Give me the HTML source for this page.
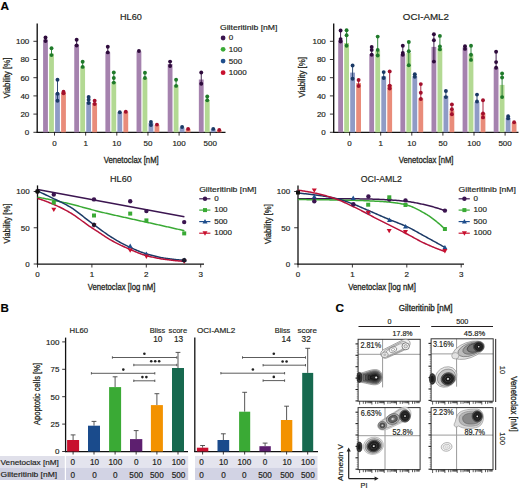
<!DOCTYPE html>
<html><head><meta charset="utf-8"><style>
html,body{margin:0;padding:0;background:#fff;overflow:hidden;}
svg{display:block;}
text{font-family:"Liberation Sans", sans-serif;stroke:#231f20;stroke-width:0.18px;} text.c{stroke-width:0.3px;}
</style></head><body>
<svg width="520" height="490" viewBox="0 0 520 490">
<rect width="520" height="490" fill="#fff"/>
<g fill="#231f20">
<text x="0.50" y="9.70" font-size="11.8" font-weight="bold" fill="#000">A</text>
<text x="0.60" y="311.80" font-size="11.6" font-weight="bold" fill="#000">B</text>
<text x="335.40" y="312.30" font-size="11.8" font-weight="bold" fill="#000">C</text>
<line x1="37.20" y1="23.50" x2="37.20" y2="132.90" stroke="#111" stroke-width="1.35"/>
<line x1="36.60" y1="132.30" x2="225.50" y2="132.30" stroke="#111" stroke-width="1.3"/>
<line x1="33.40" y1="132.30" x2="37.20" y2="132.30" stroke="#231f20" stroke-width="0.9"/>
<text x="29.30" y="135.20" font-size="8.0" text-anchor="end">0</text>
<line x1="33.40" y1="114.10" x2="37.20" y2="114.10" stroke="#231f20" stroke-width="0.9"/>
<text x="29.30" y="117.00" font-size="8.0" text-anchor="end">20</text>
<line x1="33.40" y1="95.90" x2="37.20" y2="95.90" stroke="#231f20" stroke-width="0.9"/>
<text x="29.30" y="98.80" font-size="8.0" text-anchor="end">40</text>
<line x1="33.40" y1="77.70" x2="37.20" y2="77.70" stroke="#231f20" stroke-width="0.9"/>
<text x="29.30" y="80.60" font-size="8.0" text-anchor="end">60</text>
<line x1="33.40" y1="59.50" x2="37.20" y2="59.50" stroke="#231f20" stroke-width="0.9"/>
<text x="29.30" y="62.40" font-size="8.0" text-anchor="end">80</text>
<line x1="33.40" y1="41.30" x2="37.20" y2="41.30" stroke="#231f20" stroke-width="0.9"/>
<text x="29.30" y="44.20" font-size="8.0" text-anchor="end">100</text>
<line x1="54.50" y1="132.30" x2="54.50" y2="135.60" stroke="#231f20" stroke-width="0.9"/>
<text x="54.50" y="146.20" font-size="8.0" text-anchor="middle">0</text>
<line x1="85.65" y1="132.30" x2="85.65" y2="135.60" stroke="#231f20" stroke-width="0.9"/>
<text x="85.65" y="146.20" font-size="8.0" text-anchor="middle">1</text>
<line x1="116.80" y1="132.30" x2="116.80" y2="135.60" stroke="#231f20" stroke-width="0.9"/>
<text x="116.80" y="146.20" font-size="8.0" text-anchor="middle">10</text>
<line x1="147.95" y1="132.30" x2="147.95" y2="135.60" stroke="#231f20" stroke-width="0.9"/>
<text x="147.95" y="146.20" font-size="8.0" text-anchor="middle">50</text>
<line x1="179.10" y1="132.30" x2="179.10" y2="135.60" stroke="#231f20" stroke-width="0.9"/>
<text x="179.10" y="146.20" font-size="8.0" text-anchor="middle">100</text>
<line x1="210.25" y1="132.30" x2="210.25" y2="135.60" stroke="#231f20" stroke-width="0.9"/>
<text x="210.25" y="146.20" font-size="8.0" text-anchor="middle">500</text>
<rect x="43.10" y="39.50" width="4.80" height="92.80" fill="#a582ae"/>
<rect x="49.10" y="53.60" width="4.80" height="78.70" fill="#b3d993"/>
<rect x="55.10" y="93.30" width="4.80" height="39.00" fill="#8f9bc6"/>
<rect x="61.10" y="92.20" width="4.80" height="40.10" fill="#e98c7a"/>
<line x1="45.50" y1="37.50" x2="45.50" y2="41.00" stroke="#2e0b3c" stroke-width="0.9"/>
<circle cx="45.50" cy="37.50" r="1.95" fill="#2e0b3c"/>
<circle cx="45.50" cy="41.00" r="1.95" fill="#2e0b3c"/>
<line x1="51.50" y1="48.20" x2="51.50" y2="55.10" stroke="#1f7a2a" stroke-width="0.9"/>
<circle cx="51.50" cy="48.20" r="1.95" fill="#1f7a2a"/>
<circle cx="51.50" cy="55.10" r="1.95" fill="#1f7a2a"/>
<line x1="57.50" y1="79.80" x2="57.50" y2="100.80" stroke="#1a3a66" stroke-width="0.9"/>
<circle cx="57.50" cy="79.80" r="1.95" fill="#1a3a66"/>
<circle cx="57.50" cy="93.70" r="1.95" fill="#1a3a66"/>
<circle cx="57.50" cy="100.80" r="1.95" fill="#1a3a66"/>
<line x1="63.50" y1="91.80" x2="63.50" y2="93.30" stroke="#a3102c" stroke-width="0.9"/>
<circle cx="63.50" cy="91.80" r="1.95" fill="#a3102c"/>
<circle cx="63.50" cy="93.30" r="1.95" fill="#a3102c"/>
<rect x="74.25" y="44.60" width="4.80" height="87.70" fill="#a582ae"/>
<rect x="80.25" y="66.50" width="4.80" height="65.80" fill="#b3d993"/>
<rect x="86.25" y="101.90" width="4.80" height="30.40" fill="#8f9bc6"/>
<rect x="92.25" y="103.00" width="4.80" height="29.30" fill="#e98c7a"/>
<line x1="76.65" y1="39.70" x2="76.65" y2="45.50" stroke="#2e0b3c" stroke-width="0.9"/>
<circle cx="76.65" cy="39.70" r="1.95" fill="#2e0b3c"/>
<circle cx="76.65" cy="45.50" r="1.95" fill="#2e0b3c"/>
<line x1="82.65" y1="61.80" x2="82.65" y2="66.90" stroke="#1f7a2a" stroke-width="0.9"/>
<circle cx="82.65" cy="61.80" r="1.95" fill="#1f7a2a"/>
<circle cx="82.65" cy="66.90" r="1.95" fill="#1f7a2a"/>
<line x1="88.65" y1="97.00" x2="88.65" y2="103.00" stroke="#1a3a66" stroke-width="0.9"/>
<circle cx="88.65" cy="97.00" r="1.95" fill="#1a3a66"/>
<circle cx="88.65" cy="99.70" r="1.95" fill="#1a3a66"/>
<circle cx="88.65" cy="103.00" r="1.95" fill="#1a3a66"/>
<line x1="94.65" y1="100.80" x2="94.65" y2="104.00" stroke="#a3102c" stroke-width="0.9"/>
<circle cx="94.65" cy="100.80" r="1.95" fill="#a3102c"/>
<circle cx="94.65" cy="104.00" r="1.95" fill="#a3102c"/>
<rect x="105.40" y="52.40" width="4.80" height="79.90" fill="#a582ae"/>
<rect x="111.40" y="82.00" width="4.80" height="50.30" fill="#b3d993"/>
<rect x="117.40" y="112.70" width="4.80" height="19.60" fill="#8f9bc6"/>
<rect x="123.40" y="111.70" width="4.80" height="20.60" fill="#e98c7a"/>
<line x1="107.80" y1="46.70" x2="107.80" y2="52.40" stroke="#2e0b3c" stroke-width="0.9"/>
<circle cx="107.80" cy="46.70" r="1.95" fill="#2e0b3c"/>
<circle cx="107.80" cy="52.40" r="1.95" fill="#2e0b3c"/>
<line x1="113.80" y1="72.40" x2="113.80" y2="82.60" stroke="#1f7a2a" stroke-width="0.9"/>
<circle cx="113.80" cy="72.40" r="1.95" fill="#1f7a2a"/>
<circle cx="113.80" cy="78.00" r="1.95" fill="#1f7a2a"/>
<circle cx="113.80" cy="82.60" r="1.95" fill="#1f7a2a"/>
<circle cx="119.80" cy="112.30" r="1.95" fill="#1a3a66"/>
<circle cx="125.80" cy="111.70" r="1.95" fill="#a3102c"/>
<rect x="136.55" y="51.40" width="4.80" height="80.90" fill="#a582ae"/>
<rect x="142.55" y="78.00" width="4.80" height="54.30" fill="#b3d993"/>
<rect x="148.55" y="123.00" width="4.80" height="9.30" fill="#8f9bc6"/>
<rect x="154.55" y="125.00" width="4.80" height="7.30" fill="#e98c7a"/>
<circle cx="138.95" cy="51.00" r="1.95" fill="#2e0b3c"/>
<line x1="144.95" y1="72.80" x2="144.95" y2="78.00" stroke="#1f7a2a" stroke-width="0.9"/>
<circle cx="144.95" cy="72.80" r="1.95" fill="#1f7a2a"/>
<circle cx="144.95" cy="78.00" r="1.95" fill="#1f7a2a"/>
<line x1="150.95" y1="121.90" x2="150.95" y2="125.00" stroke="#1a3a66" stroke-width="0.9"/>
<circle cx="150.95" cy="121.90" r="1.95" fill="#1a3a66"/>
<circle cx="150.95" cy="125.00" r="1.95" fill="#1a3a66"/>
<circle cx="156.95" cy="124.60" r="1.95" fill="#a3102c"/>
<rect x="167.70" y="64.00" width="4.80" height="68.30" fill="#a582ae"/>
<rect x="173.70" y="85.00" width="4.80" height="47.30" fill="#b3d993"/>
<rect x="179.70" y="127.50" width="4.80" height="4.80" fill="#8f9bc6"/>
<rect x="185.70" y="128.90" width="4.80" height="3.40" fill="#e98c7a"/>
<line x1="170.10" y1="61.60" x2="170.10" y2="66.00" stroke="#2e0b3c" stroke-width="0.9"/>
<circle cx="170.10" cy="61.60" r="1.95" fill="#2e0b3c"/>
<circle cx="170.10" cy="66.00" r="1.95" fill="#2e0b3c"/>
<line x1="176.10" y1="79.80" x2="176.10" y2="85.90" stroke="#1f7a2a" stroke-width="0.9"/>
<circle cx="176.10" cy="79.80" r="1.95" fill="#1f7a2a"/>
<circle cx="176.10" cy="85.90" r="1.95" fill="#1f7a2a"/>
<circle cx="182.10" cy="127.00" r="1.95" fill="#1a3a66"/>
<circle cx="188.10" cy="128.90" r="1.95" fill="#a3102c"/>
<rect x="198.85" y="79.50" width="4.80" height="52.80" fill="#a582ae"/>
<rect x="204.85" y="100.00" width="4.80" height="32.30" fill="#b3d993"/>
<rect x="210.85" y="128.90" width="4.80" height="3.40" fill="#8f9bc6"/>
<rect x="216.85" y="130.00" width="4.80" height="2.30" fill="#e98c7a"/>
<line x1="201.25" y1="72.50" x2="201.25" y2="83.80" stroke="#2e0b3c" stroke-width="0.9"/>
<circle cx="201.25" cy="72.50" r="1.95" fill="#2e0b3c"/>
<circle cx="201.25" cy="83.80" r="1.95" fill="#2e0b3c"/>
<line x1="207.25" y1="96.40" x2="207.25" y2="100.30" stroke="#1f7a2a" stroke-width="0.9"/>
<circle cx="207.25" cy="96.40" r="1.95" fill="#1f7a2a"/>
<circle cx="207.25" cy="100.30" r="1.95" fill="#1f7a2a"/>
<circle cx="213.25" cy="128.90" r="1.95" fill="#1a3a66"/>
<circle cx="219.25" cy="130.00" r="1.95" fill="#a3102c"/>
<text x="130.90" y="20.20" font-size="9.4" text-anchor="middle" textLength="21.8" lengthAdjust="spacingAndGlyphs">HL60</text>
<text x="103.75" y="162.50" font-size="9.4" textLength="55.0" lengthAdjust="spacingAndGlyphs" class="c">Venetoclax [nM]</text>
<text x="10.20" y="77.90" font-size="9.4" text-anchor="middle" textLength="40.5" lengthAdjust="spacingAndGlyphs" transform="rotate(-90 10.20 77.90)" class="c">Viability [%]</text>
<line x1="333.70" y1="23.50" x2="333.70" y2="132.90" stroke="#111" stroke-width="1.35"/>
<line x1="333.10" y1="132.30" x2="518.50" y2="132.30" stroke="#111" stroke-width="1.3"/>
<line x1="329.90" y1="132.30" x2="333.70" y2="132.30" stroke="#231f20" stroke-width="0.9"/>
<text x="325.80" y="135.20" font-size="8.0" text-anchor="end">0</text>
<line x1="329.90" y1="114.10" x2="333.70" y2="114.10" stroke="#231f20" stroke-width="0.9"/>
<text x="325.80" y="117.00" font-size="8.0" text-anchor="end">20</text>
<line x1="329.90" y1="95.90" x2="333.70" y2="95.90" stroke="#231f20" stroke-width="0.9"/>
<text x="325.80" y="98.80" font-size="8.0" text-anchor="end">40</text>
<line x1="329.90" y1="77.70" x2="333.70" y2="77.70" stroke="#231f20" stroke-width="0.9"/>
<text x="325.80" y="80.60" font-size="8.0" text-anchor="end">60</text>
<line x1="329.90" y1="59.50" x2="333.70" y2="59.50" stroke="#231f20" stroke-width="0.9"/>
<text x="325.80" y="62.40" font-size="8.0" text-anchor="end">80</text>
<line x1="329.90" y1="41.30" x2="333.70" y2="41.30" stroke="#231f20" stroke-width="0.9"/>
<text x="325.80" y="44.20" font-size="8.0" text-anchor="end">100</text>
<line x1="349.60" y1="132.30" x2="349.60" y2="135.60" stroke="#231f20" stroke-width="0.9"/>
<text x="349.60" y="146.20" font-size="8.0" text-anchor="middle">0</text>
<line x1="380.70" y1="132.30" x2="380.70" y2="135.60" stroke="#231f20" stroke-width="0.9"/>
<text x="380.70" y="146.20" font-size="8.0" text-anchor="middle">1</text>
<line x1="411.80" y1="132.30" x2="411.80" y2="135.60" stroke="#231f20" stroke-width="0.9"/>
<text x="411.80" y="146.20" font-size="8.0" text-anchor="middle">10</text>
<line x1="442.90" y1="132.30" x2="442.90" y2="135.60" stroke="#231f20" stroke-width="0.9"/>
<text x="442.90" y="146.20" font-size="8.0" text-anchor="middle">50</text>
<line x1="474.00" y1="132.30" x2="474.00" y2="135.60" stroke="#231f20" stroke-width="0.9"/>
<text x="474.00" y="146.20" font-size="8.0" text-anchor="middle">100</text>
<line x1="505.10" y1="132.30" x2="505.10" y2="135.60" stroke="#231f20" stroke-width="0.9"/>
<text x="505.10" y="146.20" font-size="8.0" text-anchor="middle">500</text>
<rect x="338.20" y="40.00" width="4.80" height="92.30" fill="#a582ae"/>
<rect x="344.20" y="43.00" width="4.80" height="89.30" fill="#b3d993"/>
<rect x="350.20" y="72.60" width="4.80" height="59.70" fill="#8f9bc6"/>
<rect x="356.20" y="83.10" width="4.80" height="49.20" fill="#e98c7a"/>
<line x1="340.60" y1="30.50" x2="340.60" y2="41.50" stroke="#2e0b3c" stroke-width="0.9"/>
<circle cx="340.60" cy="30.50" r="1.95" fill="#2e0b3c"/>
<circle cx="340.60" cy="39.10" r="1.95" fill="#2e0b3c"/>
<circle cx="340.60" cy="41.50" r="1.95" fill="#2e0b3c"/>
<line x1="346.60" y1="30.30" x2="346.60" y2="45.70" stroke="#1f7a2a" stroke-width="0.9"/>
<circle cx="346.60" cy="30.30" r="1.95" fill="#1f7a2a"/>
<circle cx="346.60" cy="35.20" r="1.95" fill="#1f7a2a"/>
<circle cx="346.60" cy="45.70" r="1.95" fill="#1f7a2a"/>
<line x1="352.60" y1="65.50" x2="352.60" y2="78.70" stroke="#1a3a66" stroke-width="0.9"/>
<circle cx="352.60" cy="65.50" r="1.95" fill="#1a3a66"/>
<circle cx="352.60" cy="78.70" r="1.95" fill="#1a3a66"/>
<line x1="358.60" y1="80.00" x2="358.60" y2="86.00" stroke="#a3102c" stroke-width="0.9"/>
<circle cx="358.60" cy="80.00" r="1.95" fill="#a3102c"/>
<circle cx="358.60" cy="86.00" r="1.95" fill="#a3102c"/>
<rect x="369.30" y="54.30" width="4.80" height="78.00" fill="#a582ae"/>
<rect x="375.30" y="50.60" width="4.80" height="81.70" fill="#b3d993"/>
<rect x="381.30" y="76.30" width="4.80" height="56.00" fill="#8f9bc6"/>
<rect x="387.30" y="84.90" width="4.80" height="47.40" fill="#e98c7a"/>
<line x1="371.70" y1="46.90" x2="371.70" y2="54.75" stroke="#2e0b3c" stroke-width="0.9"/>
<circle cx="371.70" cy="46.90" r="1.95" fill="#2e0b3c"/>
<circle cx="371.70" cy="49.90" r="1.95" fill="#2e0b3c"/>
<circle cx="371.70" cy="54.75" r="1.95" fill="#2e0b3c"/>
<line x1="377.70" y1="36.60" x2="377.70" y2="55.50" stroke="#1f7a2a" stroke-width="0.9"/>
<circle cx="377.70" cy="36.60" r="1.95" fill="#1f7a2a"/>
<circle cx="377.70" cy="49.90" r="1.95" fill="#1f7a2a"/>
<circle cx="377.70" cy="55.50" r="1.95" fill="#1f7a2a"/>
<line x1="383.70" y1="72.10" x2="383.70" y2="78.00" stroke="#1a3a66" stroke-width="0.9"/>
<circle cx="383.70" cy="72.10" r="1.95" fill="#1a3a66"/>
<circle cx="383.70" cy="78.00" r="1.95" fill="#1a3a66"/>
<line x1="389.70" y1="71.40" x2="389.70" y2="88.50" stroke="#a3102c" stroke-width="0.9"/>
<circle cx="389.70" cy="71.40" r="1.95" fill="#a3102c"/>
<circle cx="389.70" cy="85.60" r="1.95" fill="#a3102c"/>
<circle cx="389.70" cy="88.50" r="1.95" fill="#a3102c"/>
<rect x="400.40" y="54.30" width="4.80" height="78.00" fill="#a582ae"/>
<rect x="406.40" y="53.00" width="4.80" height="79.30" fill="#b3d993"/>
<rect x="412.40" y="76.30" width="4.80" height="56.00" fill="#8f9bc6"/>
<rect x="418.40" y="98.30" width="4.80" height="34.00" fill="#e98c7a"/>
<line x1="402.80" y1="45.70" x2="402.80" y2="54.75" stroke="#2e0b3c" stroke-width="0.9"/>
<circle cx="402.80" cy="45.70" r="1.95" fill="#2e0b3c"/>
<circle cx="402.80" cy="53.00" r="1.95" fill="#2e0b3c"/>
<circle cx="402.80" cy="54.75" r="1.95" fill="#2e0b3c"/>
<line x1="408.80" y1="42.00" x2="408.80" y2="65.30" stroke="#1f7a2a" stroke-width="0.9"/>
<circle cx="408.80" cy="42.00" r="1.95" fill="#1f7a2a"/>
<circle cx="408.80" cy="51.30" r="1.95" fill="#1f7a2a"/>
<circle cx="408.80" cy="65.30" r="1.95" fill="#1f7a2a"/>
<line x1="414.80" y1="74.30" x2="414.80" y2="76.80" stroke="#1a3a66" stroke-width="0.9"/>
<circle cx="414.80" cy="74.30" r="1.95" fill="#1a3a66"/>
<circle cx="414.80" cy="76.80" r="1.95" fill="#1a3a66"/>
<line x1="420.80" y1="84.10" x2="420.80" y2="99.00" stroke="#a3102c" stroke-width="0.9"/>
<circle cx="420.80" cy="84.10" r="1.95" fill="#a3102c"/>
<circle cx="420.80" cy="92.70" r="1.95" fill="#a3102c"/>
<circle cx="420.80" cy="99.00" r="1.95" fill="#a3102c"/>
<rect x="431.50" y="46.90" width="4.80" height="85.40" fill="#a582ae"/>
<rect x="437.50" y="48.10" width="4.80" height="84.20" fill="#b3d993"/>
<rect x="443.50" y="95.90" width="4.80" height="36.40" fill="#8f9bc6"/>
<rect x="449.50" y="110.50" width="4.80" height="21.80" fill="#e98c7a"/>
<line x1="433.90" y1="34.20" x2="433.90" y2="61.60" stroke="#2e0b3c" stroke-width="0.9"/>
<circle cx="433.90" cy="34.20" r="1.95" fill="#2e0b3c"/>
<circle cx="433.90" cy="40.30" r="1.95" fill="#2e0b3c"/>
<circle cx="433.90" cy="61.60" r="1.95" fill="#2e0b3c"/>
<line x1="439.90" y1="35.90" x2="439.90" y2="49.40" stroke="#1f7a2a" stroke-width="0.9"/>
<circle cx="439.90" cy="35.90" r="1.95" fill="#1f7a2a"/>
<circle cx="439.90" cy="46.40" r="1.95" fill="#1f7a2a"/>
<circle cx="439.90" cy="49.40" r="1.95" fill="#1f7a2a"/>
<line x1="445.90" y1="91.00" x2="445.90" y2="97.10" stroke="#1a3a66" stroke-width="0.9"/>
<circle cx="445.90" cy="91.00" r="1.95" fill="#1a3a66"/>
<circle cx="445.90" cy="97.10" r="1.95" fill="#1a3a66"/>
<line x1="451.90" y1="104.40" x2="451.90" y2="114.20" stroke="#a3102c" stroke-width="0.9"/>
<circle cx="451.90" cy="104.40" r="1.95" fill="#a3102c"/>
<circle cx="451.90" cy="109.30" r="1.95" fill="#a3102c"/>
<circle cx="451.90" cy="114.20" r="1.95" fill="#a3102c"/>
<rect x="462.60" y="47.40" width="4.80" height="84.90" fill="#a582ae"/>
<rect x="468.60" y="54.30" width="4.80" height="78.00" fill="#b3d993"/>
<rect x="474.60" y="102.00" width="4.80" height="30.30" fill="#8f9bc6"/>
<rect x="480.60" y="113.00" width="4.80" height="19.30" fill="#e98c7a"/>
<line x1="465.00" y1="46.20" x2="465.00" y2="48.90" stroke="#2e0b3c" stroke-width="0.9"/>
<circle cx="465.00" cy="46.20" r="1.95" fill="#2e0b3c"/>
<circle cx="465.00" cy="48.90" r="1.95" fill="#2e0b3c"/>
<line x1="471.00" y1="45.70" x2="471.00" y2="59.90" stroke="#1f7a2a" stroke-width="0.9"/>
<circle cx="471.00" cy="45.70" r="1.95" fill="#1f7a2a"/>
<circle cx="471.00" cy="54.75" r="1.95" fill="#1f7a2a"/>
<circle cx="471.00" cy="59.90" r="1.95" fill="#1f7a2a"/>
<line x1="477.00" y1="94.60" x2="477.00" y2="101.50" stroke="#1a3a66" stroke-width="0.9"/>
<circle cx="477.00" cy="94.60" r="1.95" fill="#1a3a66"/>
<circle cx="477.00" cy="101.50" r="1.95" fill="#1a3a66"/>
<line x1="483.00" y1="100.30" x2="483.00" y2="117.40" stroke="#a3102c" stroke-width="0.9"/>
<circle cx="483.00" cy="100.30" r="1.95" fill="#a3102c"/>
<circle cx="483.00" cy="113.50" r="1.95" fill="#a3102c"/>
<circle cx="483.00" cy="117.40" r="1.95" fill="#a3102c"/>
<rect x="493.70" y="67.70" width="4.80" height="64.60" fill="#a582ae"/>
<rect x="499.70" y="84.90" width="4.80" height="47.40" fill="#b3d993"/>
<rect x="505.70" y="117.90" width="4.80" height="14.40" fill="#8f9bc6"/>
<rect x="511.70" y="122.80" width="4.80" height="9.50" fill="#e98c7a"/>
<line x1="496.10" y1="51.80" x2="496.10" y2="67.70" stroke="#2e0b3c" stroke-width="0.9"/>
<circle cx="496.10" cy="51.80" r="1.95" fill="#2e0b3c"/>
<circle cx="496.10" cy="62.10" r="1.95" fill="#2e0b3c"/>
<circle cx="496.10" cy="67.70" r="1.95" fill="#2e0b3c"/>
<line x1="502.10" y1="73.40" x2="502.10" y2="97.10" stroke="#1f7a2a" stroke-width="0.9"/>
<circle cx="502.10" cy="73.40" r="1.95" fill="#1f7a2a"/>
<circle cx="502.10" cy="77.50" r="1.95" fill="#1f7a2a"/>
<circle cx="502.10" cy="97.10" r="1.95" fill="#1f7a2a"/>
<line x1="508.10" y1="116.20" x2="508.10" y2="118.40" stroke="#1a3a66" stroke-width="0.9"/>
<circle cx="508.10" cy="116.20" r="1.95" fill="#1a3a66"/>
<circle cx="508.10" cy="118.40" r="1.95" fill="#1a3a66"/>
<circle cx="514.10" cy="122.30" r="1.95" fill="#a3102c"/>
<text x="425.90" y="20.20" font-size="9.4" text-anchor="middle" textLength="46.2" lengthAdjust="spacingAndGlyphs">OCI-AML2</text>
<text x="398.70" y="162.50" font-size="9.4" textLength="54.8" lengthAdjust="spacingAndGlyphs" class="c">Venetoclax [nM]</text>
<text x="305.40" y="77.30" font-size="9.4" text-anchor="middle" textLength="40.5" lengthAdjust="spacingAndGlyphs" transform="rotate(-90 305.40 77.30)" class="c">Viability [%]</text>
<text x="220.00" y="30.40" font-size="8.0" textLength="57.4" lengthAdjust="spacingAndGlyphs">Gilteritinib [nM]</text>
<circle cx="223.10" cy="38.00" r="2.4" fill="#3b1550"/>
<text x="228.80" y="40.40" font-size="8.0">0</text>
<circle cx="223.10" cy="49.30" r="2.4" fill="#3aaa35"/>
<text x="228.80" y="51.70" font-size="8.0">100</text>
<circle cx="223.10" cy="61.10" r="2.4" fill="#1f4e8c"/>
<text x="228.80" y="63.50" font-size="8.0">500</text>
<circle cx="223.10" cy="72.70" r="2.4" fill="#c8102e"/>
<text x="228.80" y="75.10" font-size="8.0">1000</text>
<line x1="37.50" y1="185.40" x2="37.50" y2="264.80" stroke="#111" stroke-width="1.3"/>
<line x1="36.90" y1="264.20" x2="204.00" y2="264.20" stroke="#111" stroke-width="1.25"/>
<line x1="33.70" y1="191.50" x2="37.50" y2="191.50" stroke="#231f20" stroke-width="0.9"/>
<text x="29.60" y="194.40" font-size="8.0" text-anchor="end">100</text>
<line x1="33.70" y1="227.75" x2="37.50" y2="227.75" stroke="#231f20" stroke-width="0.9"/>
<text x="29.60" y="230.65" font-size="8.0" text-anchor="end">50</text>
<line x1="33.70" y1="264.00" x2="37.50" y2="264.00" stroke="#231f20" stroke-width="0.9"/>
<text x="29.60" y="266.90" font-size="8.0" text-anchor="end">0</text>
<line x1="37.50" y1="264.00" x2="37.50" y2="267.50" stroke="#231f20" stroke-width="0.9"/>
<text x="37.50" y="277.00" font-size="8.0" text-anchor="middle">0</text>
<line x1="91.90" y1="264.00" x2="91.90" y2="267.50" stroke="#231f20" stroke-width="0.9"/>
<text x="91.90" y="277.00" font-size="8.0" text-anchor="middle">1</text>
<line x1="146.30" y1="264.00" x2="146.30" y2="267.50" stroke="#231f20" stroke-width="0.9"/>
<text x="146.30" y="277.00" font-size="8.0" text-anchor="middle">2</text>
<line x1="200.70" y1="264.00" x2="200.70" y2="267.50" stroke="#231f20" stroke-width="0.9"/>
<text x="200.70" y="277.00" font-size="8.0" text-anchor="middle">3</text>
<text x="120.90" y="181.90" font-size="9.4" text-anchor="middle" textLength="21.8" lengthAdjust="spacingAndGlyphs">HL60</text>
<text x="87.70" y="290.40" font-size="9.4" textLength="67.7" lengthAdjust="spacingAndGlyphs" class="c">Venetoclax [log nM]</text>
<text x="10.40" y="223.50" font-size="9.4" text-anchor="middle" textLength="40.0" lengthAdjust="spacingAndGlyphs" transform="rotate(-90 10.40 223.50)" class="c">Viability [%]</text>
<path d="M37.5 189.6 L184.4 216.7" fill="none" stroke="#3b1550" stroke-width="1.5"/>
<path d="M37.5 197.20 L38.5 197.38 L39.5 197.56 L40.5 197.75 L41.5 197.94 L42.5 198.12 L43.5 198.31 L44.5 198.50 L45.5 198.70 L46.5 198.89 L47.5 199.09 L48.5 199.28 L49.5 199.48 L50.5 199.68 L51.5 199.88 L52.5 200.09 L53.5 200.29 L54.5 200.50 L55.5 200.70 L56.5 200.91 L57.5 201.12 L58.5 201.33 L59.5 201.54 L60.5 201.76 L61.5 201.97 L62.5 202.19 L63.5 202.41 L64.5 202.63 L65.5 202.85 L66.5 203.08 L67.5 203.31 L68.5 203.54 L69.5 203.78 L70.5 204.02 L71.5 204.26 L72.5 204.51 L73.5 204.77 L74.5 205.03 L75.5 205.29 L76.5 205.55 L77.5 205.82 L78.5 206.09 L79.5 206.36 L80.5 206.63 L81.5 206.90 L82.5 207.18 L83.5 207.45 L84.5 207.72 L85.5 207.99 L86.5 208.27 L87.5 208.54 L88.5 208.80 L89.5 209.07 L90.5 209.33 L91.5 209.60 L92.5 209.86 L93.5 210.13 L94.5 210.39 L95.5 210.65 L96.5 210.91 L97.5 211.17 L98.5 211.43 L99.5 211.68 L100.5 211.92 L101.5 212.17 L102.5 212.41 L103.5 212.64 L104.5 212.88 L105.5 213.12 L106.5 213.35 L107.5 213.58 L108.5 213.81 L109.5 214.04 L110.5 214.27 L111.5 214.50 L112.5 214.72 L113.5 214.95 L114.5 215.17 L115.5 215.39 L116.5 215.62 L117.5 215.84 L118.5 216.06 L119.5 216.28 L120.5 216.50 L121.5 216.72 L122.5 216.94 L123.5 217.16 L124.5 217.38 L125.5 217.60 L126.5 217.82 L127.5 218.04 L128.5 218.27 L129.5 218.49 L130.5 218.71 L131.5 218.93 L132.5 219.16 L133.5 219.38 L134.5 219.60 L135.5 219.82 L136.5 220.04 L137.5 220.26 L138.5 220.48 L139.5 220.70 L140.5 220.92 L141.5 221.14 L142.5 221.36 L143.5 221.57 L144.5 221.79 L145.5 222.01 L146.5 222.23 L147.5 222.45 L148.5 222.67 L149.5 222.89 L150.5 223.10 L151.5 223.32 L152.5 223.54 L153.5 223.76 L154.5 223.98 L155.5 224.20 L156.5 224.42 L157.5 224.64 L158.5 224.87 L159.5 225.09 L160.5 225.31 L161.5 225.53 L162.5 225.76 L163.5 225.98 L164.5 226.20 L165.5 226.43 L166.5 226.65 L167.5 226.88 L168.5 227.10 L169.5 227.33 L170.5 227.55 L171.5 227.78 L172.5 228.00 L173.5 228.23 L174.5 228.45 L175.5 228.68 L176.5 228.91 L177.5 229.13 L178.5 229.36 L179.5 229.59 L180.5 229.81 L181.5 230.04 L182.5 230.27 L183.5 230.50 L184.4 230.70" fill="none" stroke="#3aaa35" stroke-width="1.5"/>
<path d="M37.5 191.00 L38.5 191.46 L39.5 191.92 L40.5 192.38 L41.5 192.84 L42.5 193.31 L43.5 193.78 L44.5 194.25 L45.5 194.72 L46.5 195.20 L47.5 195.67 L48.5 196.15 L49.5 196.63 L50.5 197.11 L51.5 197.59 L52.5 198.08 L53.5 198.57 L54.5 199.06 L55.5 199.54 L56.5 200.03 L57.5 200.51 L58.5 200.98 L59.5 201.46 L60.5 201.93 L61.5 202.41 L62.5 202.90 L63.5 203.39 L64.5 203.89 L65.5 204.40 L66.5 204.93 L67.5 205.47 L68.5 206.03 L69.5 206.60 L70.5 207.20 L71.5 207.83 L72.5 208.48 L73.5 209.16 L74.5 209.86 L75.5 210.57 L76.5 211.31 L77.5 212.06 L78.5 212.82 L79.5 213.60 L80.5 214.38 L81.5 215.17 L82.5 215.96 L83.5 216.76 L84.5 217.55 L85.5 218.34 L86.5 219.12 L87.5 219.90 L88.5 220.67 L89.5 221.43 L90.5 222.17 L91.5 222.92 L92.5 223.66 L93.5 224.41 L94.5 225.15 L95.5 225.89 L96.5 226.63 L97.5 227.37 L98.5 228.11 L99.5 228.84 L100.5 229.56 L101.5 230.30 L102.5 231.03 L103.5 231.77 L104.5 232.50 L105.5 233.22 L106.5 233.94 L107.5 234.64 L108.5 235.32 L109.5 235.98 L110.5 236.62 L111.5 237.24 L112.5 237.86 L113.5 238.48 L114.5 239.09 L115.5 239.69 L116.5 240.28 L117.5 240.86 L118.5 241.43 L119.5 242.00 L120.5 242.56 L121.5 243.10 L122.5 243.64 L123.5 244.17 L124.5 244.68 L125.5 245.19 L126.5 245.68 L127.5 246.16 L128.5 246.63 L129.5 247.10 L130.5 247.57 L131.5 248.02 L132.5 248.48 L133.5 248.92 L134.5 249.37 L135.5 249.80 L136.5 250.22 L137.5 250.64 L138.5 251.05 L139.5 251.44 L140.5 251.83 L141.5 252.20 L142.5 252.56 L143.5 252.91 L144.5 253.24 L145.5 253.56 L146.5 253.86 L147.5 254.15 L148.5 254.45 L149.5 254.73 L150.5 255.01 L151.5 255.29 L152.5 255.56 L153.5 255.82 L154.5 256.08 L155.5 256.32 L156.5 256.56 L157.5 256.79 L158.5 257.02 L159.5 257.23 L160.5 257.43 L161.5 257.62 L162.5 257.80 L163.5 257.97 L164.5 258.13 L165.5 258.27 L166.5 258.41 L167.5 258.55 L168.5 258.69 L169.5 258.83 L170.5 258.96 L171.5 259.08 L172.5 259.21 L173.5 259.33 L174.5 259.44 L175.5 259.55 L176.5 259.65 L177.5 259.75 L178.5 259.83 L179.5 259.92 L180.5 259.99 L181.5 260.06 L182.5 260.12 L183.5 260.16 L184.4 260.20" fill="none" stroke="#1c3a66" stroke-width="1.5"/>
<path d="M37.5 198.40 L38.5 198.71 L39.5 199.03 L40.5 199.36 L41.5 199.70 L42.5 200.05 L43.5 200.41 L44.5 200.77 L45.5 201.14 L46.5 201.52 L47.5 201.90 L48.5 202.30 L49.5 202.70 L50.5 203.10 L51.5 203.51 L52.5 203.93 L53.5 204.35 L54.5 204.78 L55.5 205.22 L56.5 205.66 L57.5 206.11 L58.5 206.58 L59.5 207.05 L60.5 207.53 L61.5 208.02 L62.5 208.52 L63.5 209.03 L64.5 209.55 L65.5 210.08 L66.5 210.62 L67.5 211.17 L68.5 211.74 L69.5 212.31 L70.5 212.89 L71.5 213.50 L72.5 214.13 L73.5 214.79 L74.5 215.46 L75.5 216.14 L76.5 216.85 L77.5 217.56 L78.5 218.28 L79.5 219.01 L80.5 219.75 L81.5 220.49 L82.5 221.23 L83.5 221.97 L84.5 222.71 L85.5 223.44 L86.5 224.16 L87.5 224.87 L88.5 225.57 L89.5 226.26 L90.5 226.93 L91.5 227.60 L92.5 228.25 L93.5 228.91 L94.5 229.55 L95.5 230.20 L96.5 230.84 L97.5 231.48 L98.5 232.13 L99.5 232.78 L100.5 233.43 L101.5 234.09 L102.5 234.76 L103.5 235.44 L104.5 236.12 L105.5 236.79 L106.5 237.44 L107.5 238.09 L108.5 238.71 L109.5 239.31 L110.5 239.88 L111.5 240.44 L112.5 240.99 L113.5 241.53 L114.5 242.06 L115.5 242.59 L116.5 243.10 L117.5 243.61 L118.5 244.11 L119.5 244.60 L120.5 245.08 L121.5 245.56 L122.5 246.03 L123.5 246.49 L124.5 246.95 L125.5 247.40 L126.5 247.84 L127.5 248.28 L128.5 248.72 L129.5 249.15 L130.5 249.59 L131.5 250.03 L132.5 250.47 L133.5 250.90 L134.5 251.33 L135.5 251.75 L136.5 252.17 L137.5 252.58 L138.5 252.97 L139.5 253.36 L140.5 253.74 L141.5 254.10 L142.5 254.44 L143.5 254.77 L144.5 255.09 L145.5 255.38 L146.5 255.65 L147.5 255.92 L148.5 256.17 L149.5 256.42 L150.5 256.67 L151.5 256.90 L152.5 257.13 L153.5 257.36 L154.5 257.57 L155.5 257.78 L156.5 257.99 L157.5 258.18 L158.5 258.37 L159.5 258.55 L160.5 258.72 L161.5 258.89 L162.5 259.04 L163.5 259.19 L164.5 259.33 L165.5 259.47 L166.5 259.60 L167.5 259.73 L168.5 259.85 L169.5 259.98 L170.5 260.10 L171.5 260.21 L172.5 260.33 L173.5 260.44 L174.5 260.54 L175.5 260.64 L176.5 260.74 L177.5 260.83 L178.5 260.92 L179.5 261.00 L180.5 261.07 L181.5 261.14 L182.5 261.20 L183.5 261.26 L184.4 261.30" fill="none" stroke="#b8123a" stroke-width="1.5"/>
<circle cx="53.80" cy="194.50" r="2.2" fill="#3b1550"/>
<circle cx="94.00" cy="199.40" r="2.2" fill="#3b1550"/>
<circle cx="130.20" cy="201.30" r="2.2" fill="#3b1550"/>
<circle cx="146.40" cy="211.10" r="2.2" fill="#3b1550"/>
<circle cx="184.20" cy="222.10" r="2.2" fill="#3b1550"/>
<rect x="51.80" y="200.60" width="4.00" height="4.00" fill="#3aaa35"/>
<rect x="92.00" y="213.50" width="4.00" height="4.00" fill="#3aaa35"/>
<rect x="128.20" y="211.60" width="4.00" height="4.00" fill="#3aaa35"/>
<rect x="144.40" y="218.40" width="4.00" height="4.00" fill="#3aaa35"/>
<rect x="182.20" y="231.40" width="4.00" height="4.00" fill="#3aaa35"/>
<path d="M94.00 222.00 L96.50 226.38 L91.50 226.38Z" fill="#1f4e8c"/>
<path d="M130.20 243.60 L132.70 247.97 L127.70 247.97Z" fill="#1f4e8c"/>
<path d="M146.40 251.50 L148.90 255.88 L143.90 255.88Z" fill="#1f4e8c"/>
<path d="M184.20 257.50 L186.70 261.88 L181.70 261.88Z" fill="#1f4e8c"/>
<path d="M53.80 212.10 L56.30 207.72 L51.30 207.72Z" fill="#c8102e"/>
<path d="M94.00 228.00 L96.50 223.62 L91.50 223.62Z" fill="#c8102e"/>
<path d="M130.20 252.80 L132.70 248.43 L127.70 248.43Z" fill="#c8102e"/>
<path d="M146.40 258.90 L148.90 254.52 L143.90 254.52Z" fill="#c8102e"/>
<path d="M184.20 264.00 L186.70 259.62 L181.70 259.62Z" fill="#c8102e"/>
<text x="199.20" y="191.50" font-size="8.0" textLength="57.3" lengthAdjust="spacingAndGlyphs">Gilteritinib [nM]</text>
<line x1="199.20" y1="198.80" x2="210.40" y2="198.80" stroke="#3b1550" stroke-width="1.15"/>
<circle cx="205.00" cy="198.80" r="2.2" fill="#3b1550"/>
<text x="214.20" y="201.00" font-size="8.0">0</text>
<line x1="199.20" y1="210.10" x2="210.40" y2="210.10" stroke="#3aaa35" stroke-width="1.15"/>
<rect x="203.00" y="208.10" width="4.00" height="4.00" fill="#3aaa35"/>
<text x="214.20" y="212.30" font-size="8.0">100</text>
<line x1="199.20" y1="221.60" x2="210.40" y2="221.60" stroke="#1f4e8c" stroke-width="1.15"/>
<path d="M205.00 219.10 L207.50 223.47 L202.50 223.47Z" fill="#1f4e8c"/>
<text x="214.20" y="223.80" font-size="8.0">500</text>
<line x1="199.20" y1="233.20" x2="210.40" y2="233.20" stroke="#c8102e" stroke-width="1.15"/>
<path d="M205.00 235.70 L207.50 231.32 L202.50 231.32Z" fill="#c8102e"/>
<text x="214.20" y="235.40" font-size="8.0">1000</text>
<circle cx="37.50" cy="191.50" r="2.4" fill="#111"/>
<circle cx="94.00" cy="224.80" r="2.1" fill="#1a1a2a"/>
<circle cx="184.20" cy="260.30" r="2.3" fill="#1a1a2a"/>
<line x1="298.00" y1="185.40" x2="298.00" y2="264.80" stroke="#111" stroke-width="1.3"/>
<line x1="297.40" y1="264.20" x2="464.00" y2="264.20" stroke="#111" stroke-width="1.25"/>
<line x1="294.20" y1="191.50" x2="298.00" y2="191.50" stroke="#231f20" stroke-width="0.9"/>
<text x="290.10" y="194.40" font-size="8.0" text-anchor="end">100</text>
<line x1="294.20" y1="227.75" x2="298.00" y2="227.75" stroke="#231f20" stroke-width="0.9"/>
<text x="290.10" y="230.65" font-size="8.0" text-anchor="end">50</text>
<line x1="294.20" y1="264.00" x2="298.00" y2="264.00" stroke="#231f20" stroke-width="0.9"/>
<text x="290.10" y="266.90" font-size="8.0" text-anchor="end">0</text>
<line x1="298.00" y1="264.00" x2="298.00" y2="267.50" stroke="#231f20" stroke-width="0.9"/>
<text x="298.00" y="277.00" font-size="8.0" text-anchor="middle">0</text>
<line x1="352.40" y1="264.00" x2="352.40" y2="267.50" stroke="#231f20" stroke-width="0.9"/>
<text x="352.40" y="277.00" font-size="8.0" text-anchor="middle">1</text>
<line x1="406.80" y1="264.00" x2="406.80" y2="267.50" stroke="#231f20" stroke-width="0.9"/>
<text x="406.80" y="277.00" font-size="8.0" text-anchor="middle">2</text>
<line x1="461.20" y1="264.00" x2="461.20" y2="267.50" stroke="#231f20" stroke-width="0.9"/>
<text x="461.20" y="277.00" font-size="8.0" text-anchor="middle">3</text>
<text x="381.35" y="181.90" font-size="9.4" text-anchor="middle" textLength="41.1" lengthAdjust="spacingAndGlyphs">OCI-AML2</text>
<text x="348.20" y="290.40" font-size="9.4" textLength="67.7" lengthAdjust="spacingAndGlyphs" class="c">Venetoclax [log nM]</text>
<text x="271.30" y="224.10" font-size="9.4" text-anchor="middle" textLength="40.0" lengthAdjust="spacingAndGlyphs" transform="rotate(-90 271.30 224.10)" class="c">Viability [%]</text>
<path d="M298.0 198.70 L299.0 198.70 L300.0 198.70 L301.0 198.70 L302.0 198.70 L303.0 198.70 L304.0 198.70 L305.0 198.70 L306.0 198.70 L307.0 198.70 L308.0 198.70 L309.0 198.70 L310.0 198.70 L311.0 198.71 L312.0 198.71 L313.0 198.71 L314.0 198.71 L315.0 198.71 L316.0 198.71 L317.0 198.71 L318.0 198.71 L319.0 198.71 L320.0 198.72 L321.0 198.72 L322.0 198.72 L323.0 198.72 L324.0 198.72 L325.0 198.72 L326.0 198.73 L327.0 198.73 L328.0 198.73 L329.0 198.73 L330.0 198.73 L331.0 198.74 L332.0 198.74 L333.0 198.74 L334.0 198.74 L335.0 198.75 L336.0 198.75 L337.0 198.75 L338.0 198.75 L339.0 198.76 L340.0 198.76 L341.0 198.76 L342.0 198.77 L343.0 198.77 L344.0 198.77 L345.0 198.78 L346.0 198.78 L347.0 198.78 L348.0 198.79 L349.0 198.79 L350.0 198.79 L351.0 198.80 L352.0 198.80 L353.0 198.80 L354.0 198.81 L355.0 198.82 L356.0 198.83 L357.0 198.84 L358.0 198.85 L359.0 198.86 L360.0 198.88 L361.0 198.89 L362.0 198.91 L363.0 198.92 L364.0 198.94 L365.0 198.96 L366.0 198.98 L367.0 199.00 L368.0 199.03 L369.0 199.05 L370.0 199.07 L371.0 199.10 L372.0 199.12 L373.0 199.15 L374.0 199.17 L375.0 199.20 L376.0 199.23 L377.0 199.26 L378.0 199.30 L379.0 199.34 L380.0 199.39 L381.0 199.44 L382.0 199.49 L383.0 199.54 L384.0 199.60 L385.0 199.66 L386.0 199.72 L387.0 199.78 L388.0 199.84 L389.0 199.90 L390.0 199.96 L391.0 200.03 L392.0 200.09 L393.0 200.16 L394.0 200.23 L395.0 200.30 L396.0 200.37 L397.0 200.45 L398.0 200.53 L399.0 200.61 L400.0 200.70 L401.0 200.79 L402.0 200.88 L403.0 200.98 L404.0 201.08 L405.0 201.19 L406.0 201.30 L407.0 201.42 L408.0 201.55 L409.0 201.68 L410.0 201.83 L411.0 201.99 L412.0 202.15 L413.0 202.32 L414.0 202.50 L415.0 202.69 L416.0 202.88 L417.0 203.08 L418.0 203.28 L419.0 203.49 L420.0 203.70 L421.0 203.91 L422.0 204.13 L423.0 204.35 L424.0 204.58 L425.0 204.80 L426.0 205.03 L427.0 205.27 L428.0 205.51 L429.0 205.76 L430.0 206.02 L431.0 206.29 L432.0 206.56 L433.0 206.84 L434.0 207.12 L435.0 207.41 L436.0 207.71 L437.0 208.01 L438.0 208.32 L439.0 208.64 L440.0 208.96 L441.0 209.28 L442.0 209.61 L443.0 209.95 L444.0 210.29 L444.9 210.60" fill="none" stroke="#3b1550" stroke-width="1.5"/>
<path d="M298.0 199.60 L299.0 199.60 L300.0 199.60 L301.0 199.60 L302.0 199.61 L303.0 199.61 L304.0 199.61 L305.0 199.62 L306.0 199.62 L307.0 199.63 L308.0 199.63 L309.0 199.64 L310.0 199.65 L311.0 199.65 L312.0 199.66 L313.0 199.67 L314.0 199.68 L315.0 199.69 L316.0 199.70 L317.0 199.71 L318.0 199.72 L319.0 199.73 L320.0 199.74 L321.0 199.76 L322.0 199.77 L323.0 199.78 L324.0 199.80 L325.0 199.81 L326.0 199.83 L327.0 199.84 L328.0 199.86 L329.0 199.87 L330.0 199.89 L331.0 199.90 L332.0 199.92 L333.0 199.94 L334.0 199.95 L335.0 199.97 L336.0 199.99 L337.0 200.01 L338.0 200.03 L339.0 200.04 L340.0 200.06 L341.0 200.08 L342.0 200.10 L343.0 200.12 L344.0 200.14 L345.0 200.16 L346.0 200.18 L347.0 200.20 L348.0 200.22 L349.0 200.24 L350.0 200.26 L351.0 200.28 L352.0 200.30 L353.0 200.32 L354.0 200.34 L355.0 200.37 L356.0 200.39 L357.0 200.42 L358.0 200.45 L359.0 200.48 L360.0 200.51 L361.0 200.54 L362.0 200.57 L363.0 200.61 L364.0 200.64 L365.0 200.68 L366.0 200.72 L367.0 200.76 L368.0 200.80 L369.0 200.84 L370.0 200.89 L371.0 200.93 L372.0 200.98 L373.0 201.03 L374.0 201.08 L375.0 201.13 L376.0 201.18 L377.0 201.23 L378.0 201.29 L379.0 201.34 L380.0 201.40 L381.0 201.46 L382.0 201.53 L383.0 201.60 L384.0 201.67 L385.0 201.75 L386.0 201.84 L387.0 201.93 L388.0 202.02 L389.0 202.12 L390.0 202.22 L391.0 202.33 L392.0 202.44 L393.0 202.56 L394.0 202.68 L395.0 202.80 L396.0 202.93 L397.0 203.07 L398.0 203.21 L399.0 203.37 L400.0 203.54 L401.0 203.72 L402.0 203.91 L403.0 204.11 L404.0 204.33 L405.0 204.56 L406.0 204.80 L407.0 205.07 L408.0 205.36 L409.0 205.69 L410.0 206.04 L411.0 206.41 L412.0 206.81 L413.0 207.23 L414.0 207.68 L415.0 208.14 L416.0 208.62 L417.0 209.12 L418.0 209.63 L419.0 210.15 L420.0 210.69 L421.0 211.24 L422.0 211.79 L423.0 212.36 L424.0 212.93 L425.0 213.50 L426.0 214.09 L427.0 214.70 L428.0 215.33 L429.0 215.99 L430.0 216.67 L431.0 217.37 L432.0 218.09 L433.0 218.83 L434.0 219.59 L435.0 220.38 L436.0 221.17 L437.0 221.99 L438.0 222.82 L439.0 223.67 L440.0 224.54 L441.0 225.42 L442.0 226.32 L443.0 227.23 L444.0 228.16 L444.9 229.00" fill="none" stroke="#3aaa35" stroke-width="1.5"/>
<path d="M298.0 193.10 L299.0 193.18 L300.0 193.27 L301.0 193.36 L302.0 193.46 L303.0 193.55 L304.0 193.65 L305.0 193.75 L306.0 193.86 L307.0 193.97 L308.0 194.08 L309.0 194.19 L310.0 194.31 L311.0 194.43 L312.0 194.55 L313.0 194.67 L314.0 194.80 L315.0 194.93 L316.0 195.06 L317.0 195.19 L318.0 195.32 L319.0 195.46 L320.0 195.60 L321.0 195.74 L322.0 195.88 L323.0 196.03 L324.0 196.19 L325.0 196.34 L326.0 196.50 L327.0 196.67 L328.0 196.84 L329.0 197.02 L330.0 197.20 L331.0 197.39 L332.0 197.58 L333.0 197.78 L334.0 197.99 L335.0 198.20 L336.0 198.43 L337.0 198.67 L338.0 198.93 L339.0 199.20 L340.0 199.49 L341.0 199.79 L342.0 200.10 L343.0 200.43 L344.0 200.76 L345.0 201.10 L346.0 201.44 L347.0 201.80 L348.0 202.15 L349.0 202.51 L350.0 202.87 L351.0 203.24 L352.0 203.60 L353.0 203.97 L354.0 204.35 L355.0 204.74 L356.0 205.14 L357.0 205.55 L358.0 205.97 L359.0 206.39 L360.0 206.82 L361.0 207.26 L362.0 207.69 L363.0 208.13 L364.0 208.58 L365.0 209.02 L366.0 209.46 L367.0 209.90 L368.0 210.34 L369.0 210.77 L370.0 211.20 L371.0 211.63 L372.0 212.06 L373.0 212.49 L374.0 212.92 L375.0 213.35 L376.0 213.79 L377.0 214.22 L378.0 214.66 L379.0 215.10 L380.0 215.53 L381.0 215.97 L382.0 216.40 L383.0 216.83 L384.0 217.26 L385.0 217.69 L386.0 218.12 L387.0 218.55 L388.0 218.97 L389.0 219.39 L390.0 219.81 L391.0 220.22 L392.0 220.62 L393.0 221.01 L394.0 221.40 L395.0 221.79 L396.0 222.17 L397.0 222.56 L398.0 222.95 L399.0 223.33 L400.0 223.73 L401.0 224.12 L402.0 224.53 L403.0 224.94 L404.0 225.36 L405.0 225.79 L406.0 226.24 L407.0 226.69 L408.0 227.17 L409.0 227.65 L410.0 228.15 L411.0 228.67 L412.0 229.19 L413.0 229.72 L414.0 230.26 L415.0 230.81 L416.0 231.36 L417.0 231.92 L418.0 232.48 L419.0 233.05 L420.0 233.61 L421.0 234.18 L422.0 234.74 L423.0 235.30 L424.0 235.85 L425.0 236.40 L426.0 236.95 L427.0 237.49 L428.0 238.04 L429.0 238.59 L430.0 239.14 L431.0 239.69 L432.0 240.24 L433.0 240.79 L434.0 241.34 L435.0 241.89 L436.0 242.44 L437.0 243.00 L438.0 243.55 L439.0 244.11 L440.0 244.66 L441.0 245.22 L442.0 245.78 L443.0 246.34 L444.0 246.90 L444.9 247.40" fill="none" stroke="#1c3a66" stroke-width="1.5"/>
<path d="M298.0 190.20 L299.0 190.33 L300.0 190.46 L301.0 190.60 L302.0 190.75 L303.0 190.90 L304.0 191.06 L305.0 191.22 L306.0 191.39 L307.0 191.56 L308.0 191.74 L309.0 191.92 L310.0 192.11 L311.0 192.30 L312.0 192.50 L313.0 192.70 L314.0 192.90 L315.0 193.11 L316.0 193.32 L317.0 193.55 L318.0 193.77 L319.0 194.01 L320.0 194.25 L321.0 194.49 L322.0 194.75 L323.0 195.01 L324.0 195.27 L325.0 195.54 L326.0 195.82 L327.0 196.10 L328.0 196.39 L329.0 196.69 L330.0 196.99 L331.0 197.30 L332.0 197.62 L333.0 197.94 L334.0 198.27 L335.0 198.60 L336.0 198.95 L337.0 199.31 L338.0 199.69 L339.0 200.09 L340.0 200.50 L341.0 200.92 L342.0 201.35 L343.0 201.80 L344.0 202.25 L345.0 202.71 L346.0 203.17 L347.0 203.64 L348.0 204.11 L349.0 204.58 L350.0 205.06 L351.0 205.53 L352.0 206.00 L353.0 206.47 L354.0 206.95 L355.0 207.43 L356.0 207.92 L357.0 208.42 L358.0 208.92 L359.0 209.43 L360.0 209.94 L361.0 210.45 L362.0 210.97 L363.0 211.48 L364.0 212.01 L365.0 212.53 L366.0 213.06 L367.0 213.59 L368.0 214.11 L369.0 214.64 L370.0 215.17 L371.0 215.70 L372.0 216.23 L373.0 216.76 L374.0 217.29 L375.0 217.81 L376.0 218.34 L377.0 218.86 L378.0 219.37 L379.0 219.89 L380.0 220.40 L381.0 220.91 L382.0 221.41 L383.0 221.92 L384.0 222.42 L385.0 222.93 L386.0 223.43 L387.0 223.93 L388.0 224.43 L389.0 224.93 L390.0 225.43 L391.0 225.93 L392.0 226.43 L393.0 226.93 L394.0 227.43 L395.0 227.93 L396.0 228.43 L397.0 228.93 L398.0 229.43 L399.0 229.93 L400.0 230.43 L401.0 230.94 L402.0 231.45 L403.0 231.95 L404.0 232.46 L405.0 232.97 L406.0 233.49 L407.0 234.00 L408.0 234.53 L409.0 235.06 L410.0 235.60 L411.0 236.14 L412.0 236.69 L413.0 237.24 L414.0 237.79 L415.0 238.34 L416.0 238.89 L417.0 239.43 L418.0 239.98 L419.0 240.51 L420.0 241.04 L421.0 241.55 L422.0 242.06 L423.0 242.55 L424.0 243.03 L425.0 243.50 L426.0 243.95 L427.0 244.41 L428.0 244.85 L429.0 245.29 L430.0 245.73 L431.0 246.16 L432.0 246.58 L433.0 247.00 L434.0 247.41 L435.0 247.82 L436.0 248.22 L437.0 248.62 L438.0 249.01 L439.0 249.39 L440.0 249.76 L441.0 250.13 L442.0 250.49 L443.0 250.85 L444.0 251.19 L444.9 251.50" fill="none" stroke="#b8123a" stroke-width="1.5"/>
<circle cx="314.30" cy="201.30" r="2.2" fill="#3b1550"/>
<circle cx="353.40" cy="204.20" r="2.2" fill="#3b1550"/>
<circle cx="368.40" cy="196.50" r="2.2" fill="#3b1550"/>
<circle cx="389.30" cy="199.60" r="2.2" fill="#3b1550"/>
<circle cx="405.50" cy="200.40" r="2.2" fill="#3b1550"/>
<circle cx="444.90" cy="210.60" r="2.2" fill="#3b1550"/>
<rect x="366.20" y="202.70" width="4.00" height="4.00" fill="#3aaa35"/>
<rect x="387.30" y="195.30" width="4.00" height="4.00" fill="#3aaa35"/>
<rect x="403.50" y="203.00" width="4.00" height="4.00" fill="#3aaa35"/>
<rect x="442.90" y="227.00" width="4.00" height="4.00" fill="#3aaa35"/>
<path d="M314.30 194.20 L316.80 198.57 L311.80 198.57Z" fill="#1f4e8c"/>
<path d="M353.20 195.60 L355.70 199.97 L350.70 199.97Z" fill="#1f4e8c"/>
<path d="M368.40 209.30 L370.90 213.68 L365.90 213.68Z" fill="#1f4e8c"/>
<path d="M389.50 217.60 L392.00 221.97 L387.00 221.97Z" fill="#1f4e8c"/>
<path d="M405.50 224.00 L408.00 228.38 L403.00 228.38Z" fill="#1f4e8c"/>
<path d="M444.90 244.90 L447.40 249.28 L442.40 249.28Z" fill="#1f4e8c"/>
<path d="M314.30 192.80 L316.80 188.43 L311.80 188.43Z" fill="#c8102e"/>
<path d="M368.20 215.20 L370.70 210.82 L365.70 210.82Z" fill="#c8102e"/>
<path d="M389.20 233.30 L391.70 228.93 L386.70 228.93Z" fill="#c8102e"/>
<path d="M405.50 234.40 L408.00 230.03 L403.00 230.03Z" fill="#c8102e"/>
<path d="M444.90 253.50 L447.40 249.12 L442.40 249.12Z" fill="#c8102e"/>
<text x="458.60" y="191.50" font-size="8.0" textLength="57.3" lengthAdjust="spacingAndGlyphs">Gilteritinib [nM]</text>
<line x1="458.60" y1="198.80" x2="469.80" y2="198.80" stroke="#3b1550" stroke-width="1.15"/>
<circle cx="464.40" cy="198.80" r="2.2" fill="#3b1550"/>
<text x="473.60" y="201.00" font-size="8.0">0</text>
<line x1="458.60" y1="210.10" x2="469.80" y2="210.10" stroke="#3aaa35" stroke-width="1.15"/>
<rect x="462.40" y="208.10" width="4.00" height="4.00" fill="#3aaa35"/>
<text x="473.60" y="212.30" font-size="8.0">100</text>
<line x1="458.60" y1="221.60" x2="469.80" y2="221.60" stroke="#1f4e8c" stroke-width="1.15"/>
<path d="M464.40 219.10 L466.90 223.47 L461.90 223.47Z" fill="#1f4e8c"/>
<text x="473.60" y="223.80" font-size="8.0">500</text>
<line x1="458.60" y1="233.20" x2="469.80" y2="233.20" stroke="#c8102e" stroke-width="1.15"/>
<path d="M464.40 235.70 L466.90 231.32 L461.90 231.32Z" fill="#c8102e"/>
<text x="473.60" y="235.40" font-size="8.0">1000</text>
<rect x="296.00" y="190.50" width="4.00" height="4.00" fill="#111"/>
<line x1="65.60" y1="337.60" x2="65.60" y2="452.10" stroke="#111" stroke-width="1.3"/>
<line x1="65.00" y1="451.50" x2="188.00" y2="451.50" stroke="#111" stroke-width="1.25"/>
<line x1="62.20" y1="451.50" x2="65.60" y2="451.50" stroke="#231f20" stroke-width="0.9"/>
<text x="59.40" y="454.40" font-size="8.0" text-anchor="end">0</text>
<line x1="62.20" y1="424.10" x2="65.60" y2="424.10" stroke="#231f20" stroke-width="0.9"/>
<text x="59.40" y="427.00" font-size="8.0" text-anchor="end">25</text>
<line x1="62.20" y1="396.70" x2="65.60" y2="396.70" stroke="#231f20" stroke-width="0.9"/>
<text x="59.40" y="399.60" font-size="8.0" text-anchor="end">50</text>
<line x1="62.20" y1="369.30" x2="65.60" y2="369.30" stroke="#231f20" stroke-width="0.9"/>
<text x="59.40" y="372.20" font-size="8.0" text-anchor="end">75</text>
<line x1="62.20" y1="341.90" x2="65.60" y2="341.90" stroke="#231f20" stroke-width="0.9"/>
<text x="59.40" y="344.80" font-size="8.0" text-anchor="end">100</text>
<line x1="73.10" y1="434.90" x2="73.10" y2="440.00" stroke="#444" stroke-width="0.9"/>
<line x1="70.70" y1="434.90" x2="75.50" y2="434.90" stroke="#444" stroke-width="0.9"/>
<rect x="67.10" y="440.00" width="12.00" height="11.50" fill="#c8102e"/>
<line x1="73.10" y1="451.50" x2="73.10" y2="454.50" stroke="#231f20" stroke-width="0.9"/>
<line x1="94.00" y1="421.40" x2="94.00" y2="425.70" stroke="#444" stroke-width="0.9"/>
<line x1="91.60" y1="421.40" x2="96.40" y2="421.40" stroke="#444" stroke-width="0.9"/>
<rect x="88.00" y="425.70" width="12.00" height="25.80" fill="#1a4b8c"/>
<line x1="94.00" y1="451.50" x2="94.00" y2="454.50" stroke="#231f20" stroke-width="0.9"/>
<line x1="115.10" y1="376.80" x2="115.10" y2="387.10" stroke="#444" stroke-width="0.9"/>
<line x1="112.70" y1="376.80" x2="117.50" y2="376.80" stroke="#444" stroke-width="0.9"/>
<rect x="109.10" y="387.10" width="12.00" height="64.40" fill="#3aaa35"/>
<line x1="115.10" y1="451.50" x2="115.10" y2="454.50" stroke="#231f20" stroke-width="0.9"/>
<line x1="136.15" y1="430.60" x2="136.15" y2="439.10" stroke="#444" stroke-width="0.9"/>
<line x1="133.75" y1="430.60" x2="138.55" y2="430.60" stroke="#444" stroke-width="0.9"/>
<rect x="130.00" y="439.10" width="12.30" height="12.40" fill="#5d1f6f"/>
<line x1="136.15" y1="451.50" x2="136.15" y2="454.50" stroke="#231f20" stroke-width="0.9"/>
<line x1="156.90" y1="393.70" x2="156.90" y2="405.10" stroke="#444" stroke-width="0.9"/>
<line x1="154.50" y1="393.70" x2="159.30" y2="393.70" stroke="#444" stroke-width="0.9"/>
<rect x="150.90" y="405.10" width="12.00" height="46.40" fill="#f39200"/>
<line x1="156.90" y1="451.50" x2="156.90" y2="454.50" stroke="#231f20" stroke-width="0.9"/>
<line x1="178.00" y1="352.40" x2="178.00" y2="368.00" stroke="#444" stroke-width="0.9"/>
<line x1="175.60" y1="352.40" x2="180.40" y2="352.40" stroke="#444" stroke-width="0.9"/>
<rect x="172.00" y="368.00" width="12.00" height="83.50" fill="#17694f"/>
<line x1="178.00" y1="451.50" x2="178.00" y2="454.50" stroke="#231f20" stroke-width="0.9"/>
<line x1="112.40" y1="357.50" x2="176.80" y2="357.50" stroke="#4a4a4a" stroke-width="0.9"/>
<line x1="112.40" y1="356.30" x2="112.40" y2="358.70" stroke="#4a4a4a" stroke-width="0.9"/>
<line x1="176.80" y1="356.30" x2="176.80" y2="358.70" stroke="#4a4a4a" stroke-width="0.9"/>
<circle cx="144.40" cy="353.80" r="1.3" fill="#222"/>
<line x1="133.80" y1="365.00" x2="176.80" y2="365.00" stroke="#4a4a4a" stroke-width="0.9"/>
<line x1="133.80" y1="363.80" x2="133.80" y2="366.20" stroke="#4a4a4a" stroke-width="0.9"/>
<line x1="176.80" y1="363.80" x2="176.80" y2="366.20" stroke="#4a4a4a" stroke-width="0.9"/>
<circle cx="151.25" cy="361.30" r="1.3" fill="#222"/>
<circle cx="155.20" cy="361.30" r="1.3" fill="#222"/>
<circle cx="159.15" cy="361.30" r="1.3" fill="#222"/>
<line x1="91.40" y1="373.30" x2="154.80" y2="373.30" stroke="#4a4a4a" stroke-width="0.9"/>
<line x1="91.40" y1="372.10" x2="91.40" y2="374.50" stroke="#4a4a4a" stroke-width="0.9"/>
<line x1="154.80" y1="372.10" x2="154.80" y2="374.50" stroke="#4a4a4a" stroke-width="0.9"/>
<circle cx="123.30" cy="369.60" r="1.3" fill="#222"/>
<line x1="133.80" y1="380.80" x2="154.80" y2="380.80" stroke="#4a4a4a" stroke-width="0.9"/>
<line x1="133.80" y1="379.60" x2="133.80" y2="382.00" stroke="#4a4a4a" stroke-width="0.9"/>
<line x1="154.80" y1="379.60" x2="154.80" y2="382.00" stroke="#4a4a4a" stroke-width="0.9"/>
<circle cx="142.43" cy="377.10" r="1.3" fill="#222"/>
<circle cx="146.38" cy="377.10" r="1.3" fill="#222"/>
<text x="69.60" y="333.10" font-size="8.0" textLength="18.4" lengthAdjust="spacingAndGlyphs">HL60</text>
<text x="149.70" y="333.10" font-size="8.0" textLength="15.5" lengthAdjust="spacingAndGlyphs">Bliss</text>
<text x="168.60" y="333.10" font-size="8.0" textLength="18.5" lengthAdjust="spacingAndGlyphs">score</text>
<text x="157.80" y="342.10" font-size="8.3" text-anchor="middle">10</text>
<text x="178.50" y="342.10" font-size="8.3" text-anchor="middle">13</text>
<line x1="194.80" y1="337.60" x2="194.80" y2="452.10" stroke="#111" stroke-width="1.3"/>
<line x1="194.20" y1="451.50" x2="318.00" y2="451.50" stroke="#111" stroke-width="1.25"/>
<line x1="202.60" y1="445.50" x2="202.60" y2="447.70" stroke="#444" stroke-width="0.9"/>
<line x1="200.20" y1="445.50" x2="205.00" y2="445.50" stroke="#444" stroke-width="0.9"/>
<rect x="196.90" y="447.70" width="11.40" height="3.80" fill="#c8102e"/>
<line x1="202.60" y1="451.50" x2="202.60" y2="454.50" stroke="#231f20" stroke-width="0.9"/>
<line x1="223.35" y1="433.80" x2="223.35" y2="440.00" stroke="#444" stroke-width="0.9"/>
<line x1="220.95" y1="433.80" x2="225.75" y2="433.80" stroke="#444" stroke-width="0.9"/>
<rect x="217.50" y="440.00" width="11.70" height="11.50" fill="#1a4b8c"/>
<line x1="223.35" y1="451.50" x2="223.35" y2="454.50" stroke="#231f20" stroke-width="0.9"/>
<line x1="244.65" y1="392.30" x2="244.65" y2="411.70" stroke="#444" stroke-width="0.9"/>
<line x1="242.25" y1="392.30" x2="247.05" y2="392.30" stroke="#444" stroke-width="0.9"/>
<rect x="239.10" y="411.70" width="11.10" height="39.80" fill="#3aaa35"/>
<line x1="244.65" y1="451.50" x2="244.65" y2="454.50" stroke="#231f20" stroke-width="0.9"/>
<line x1="265.10" y1="443.10" x2="265.10" y2="446.20" stroke="#444" stroke-width="0.9"/>
<line x1="262.70" y1="443.10" x2="267.50" y2="443.10" stroke="#444" stroke-width="0.9"/>
<rect x="259.40" y="446.20" width="11.40" height="5.30" fill="#5d1f6f"/>
<line x1="265.10" y1="451.50" x2="265.10" y2="454.50" stroke="#231f20" stroke-width="0.9"/>
<line x1="286.60" y1="406.20" x2="286.60" y2="420.00" stroke="#444" stroke-width="0.9"/>
<line x1="284.20" y1="406.20" x2="289.00" y2="406.20" stroke="#444" stroke-width="0.9"/>
<rect x="280.90" y="420.00" width="11.40" height="31.50" fill="#f39200"/>
<line x1="286.60" y1="451.50" x2="286.60" y2="454.50" stroke="#231f20" stroke-width="0.9"/>
<line x1="307.70" y1="348.30" x2="307.70" y2="372.90" stroke="#444" stroke-width="0.9"/>
<line x1="305.30" y1="348.30" x2="310.10" y2="348.30" stroke="#444" stroke-width="0.9"/>
<rect x="302.20" y="372.90" width="11.00" height="78.60" fill="#17694f"/>
<line x1="307.70" y1="451.50" x2="307.70" y2="454.50" stroke="#231f20" stroke-width="0.9"/>
<line x1="242.50" y1="357.50" x2="305.50" y2="357.50" stroke="#4a4a4a" stroke-width="0.9"/>
<line x1="242.50" y1="356.30" x2="242.50" y2="358.70" stroke="#4a4a4a" stroke-width="0.9"/>
<line x1="305.50" y1="356.30" x2="305.50" y2="358.70" stroke="#4a4a4a" stroke-width="0.9"/>
<circle cx="273.80" cy="353.80" r="1.3" fill="#222"/>
<line x1="263.10" y1="365.20" x2="305.50" y2="365.20" stroke="#4a4a4a" stroke-width="0.9"/>
<line x1="263.10" y1="364.00" x2="263.10" y2="366.40" stroke="#4a4a4a" stroke-width="0.9"/>
<line x1="305.50" y1="364.00" x2="305.50" y2="366.40" stroke="#4a4a4a" stroke-width="0.9"/>
<circle cx="282.62" cy="361.50" r="1.3" fill="#222"/>
<circle cx="286.58" cy="361.50" r="1.3" fill="#222"/>
<line x1="220.90" y1="373.20" x2="284.60" y2="373.20" stroke="#4a4a4a" stroke-width="0.9"/>
<line x1="220.90" y1="372.00" x2="220.90" y2="374.40" stroke="#4a4a4a" stroke-width="0.9"/>
<line x1="284.60" y1="372.00" x2="284.60" y2="374.40" stroke="#4a4a4a" stroke-width="0.9"/>
<circle cx="252.90" cy="369.50" r="1.3" fill="#222"/>
<line x1="263.10" y1="380.60" x2="284.60" y2="380.60" stroke="#4a4a4a" stroke-width="0.9"/>
<line x1="263.10" y1="379.40" x2="263.10" y2="381.80" stroke="#4a4a4a" stroke-width="0.9"/>
<line x1="284.60" y1="379.40" x2="284.60" y2="381.80" stroke="#4a4a4a" stroke-width="0.9"/>
<circle cx="273.80" cy="376.90" r="1.3" fill="#222"/>
<text x="196.90" y="333.10" font-size="8.0" textLength="38.5" lengthAdjust="spacingAndGlyphs">OCI-AML2</text>
<text x="274.80" y="333.10" font-size="8.0" textLength="15.4" lengthAdjust="spacingAndGlyphs">Bliss</text>
<text x="297.50" y="333.10" font-size="8.0" textLength="19.4" lengthAdjust="spacingAndGlyphs">score</text>
<text x="286.20" y="342.10" font-size="8.3" text-anchor="middle">14</text>
<text x="306.20" y="342.10" font-size="8.3" text-anchor="middle">32</text>
<text x="40.00" y="394.00" font-size="9.6" text-anchor="middle" textLength="62.0" lengthAdjust="spacingAndGlyphs" transform="rotate(-90 40.00 394.00)" class="c">Apoptotic cells [%]</text>
<rect x="0.00" y="456.00" width="64.80" height="11.60" fill="#e0e0ea"/>
<rect x="0.00" y="467.60" width="64.80" height="12.40" fill="#cfd0e1"/>
<rect x="66.00" y="456.00" width="122.20" height="11.60" fill="#e4e4ee"/>
<rect x="66.00" y="467.60" width="122.20" height="12.40" fill="#d2d3e4"/>
<rect x="195.00" y="456.00" width="122.50" height="11.60" fill="#e4e4ee"/>
<rect x="195.00" y="467.60" width="122.50" height="12.40" fill="#d2d3e4"/>
<text x="0.60" y="464.60" font-size="8.0" textLength="58.2" lengthAdjust="spacingAndGlyphs">Venetoclax [nM]</text>
<text x="0.60" y="476.80" font-size="8.0" textLength="56.5" lengthAdjust="spacingAndGlyphs">Gilteritinib [nM]</text>
<text x="72.90" y="465.40" font-size="8.2" text-anchor="middle">0</text>
<text x="72.90" y="477.50" font-size="8.2" text-anchor="middle">0</text>
<text x="94.50" y="465.40" font-size="8.2" text-anchor="middle">10</text>
<text x="94.50" y="477.50" font-size="8.2" text-anchor="middle">0</text>
<text x="115.40" y="465.40" font-size="8.2" text-anchor="middle">100</text>
<text x="115.40" y="477.50" font-size="8.2" text-anchor="middle">0</text>
<text x="136.20" y="465.40" font-size="8.2" text-anchor="middle">0</text>
<text x="136.20" y="477.50" font-size="8.2" text-anchor="middle">500</text>
<text x="156.90" y="465.40" font-size="8.2" text-anchor="middle">10</text>
<text x="156.90" y="477.50" font-size="8.2" text-anchor="middle">500</text>
<text x="178.50" y="465.40" font-size="8.2" text-anchor="middle">100</text>
<text x="178.50" y="477.50" font-size="8.2" text-anchor="middle">500</text>
<text x="201.60" y="465.40" font-size="8.2" text-anchor="middle">0</text>
<text x="201.60" y="477.50" font-size="8.2" text-anchor="middle">0</text>
<text x="223.50" y="465.40" font-size="8.2" text-anchor="middle">10</text>
<text x="223.50" y="477.50" font-size="8.2" text-anchor="middle">0</text>
<text x="244.40" y="465.40" font-size="8.2" text-anchor="middle">100</text>
<text x="244.40" y="477.50" font-size="8.2" text-anchor="middle">0</text>
<text x="265.10" y="465.40" font-size="8.2" text-anchor="middle">0</text>
<text x="265.10" y="477.50" font-size="8.2" text-anchor="middle">500</text>
<text x="287.00" y="465.40" font-size="8.2" text-anchor="middle">10</text>
<text x="287.00" y="477.50" font-size="8.2" text-anchor="middle">500</text>
<text x="307.90" y="465.40" font-size="8.2" text-anchor="middle">100</text>
<text x="307.90" y="477.50" font-size="8.2" text-anchor="middle">500</text>
<text x="398.80" y="311.10" font-size="8.4" textLength="53.8" lengthAdjust="spacingAndGlyphs" class="c">Gilteritinib [nM]</text>
<text x="389.40" y="323.80" font-size="7.2" text-anchor="middle">0</text>
<text x="462.20" y="323.80" font-size="7.2" text-anchor="middle">500</text>
<line x1="358.50" y1="326.50" x2="420.00" y2="326.50" stroke="#231f20" stroke-width="1.1"/>
<line x1="431.20" y1="326.50" x2="493.00" y2="326.50" stroke="#231f20" stroke-width="1.1"/>
<text x="392.60" y="335.70" font-size="7.3" textLength="20.0" lengthAdjust="spacingAndGlyphs">17.8%</text>
<text x="463.80" y="335.70" font-size="7.3" textLength="21.4" lengthAdjust="spacingAndGlyphs">45.8%</text>
<defs>
<radialGradient id="dk" cx="50%" cy="50%" r="50%"><stop offset="0" stop-color="#f0f0f0"/><stop offset="0.22" stop-color="#333"/><stop offset="0.55" stop-color="#2a2a2a"/><stop offset="0.8" stop-color="#666"/><stop offset="1" stop-color="#aaa" stop-opacity="0.5"/></radialGradient>
<radialGradient id="md" cx="50%" cy="50%" r="50%"><stop offset="0" stop-color="#ddd"/><stop offset="0.5" stop-color="#999"/><stop offset="0.85" stop-color="#bbb"/><stop offset="1" stop-color="#ddd" stop-opacity="0.5"/></radialGradient>
<radialGradient id="lt" cx="50%" cy="50%" r="50%"><stop offset="0" stop-color="#fff"/><stop offset="0.6" stop-color="#f4f4f4"/><stop offset="1" stop-color="#ddd"/></radialGradient>
<linearGradient id="bodyg" x1="0" y1="0" x2="1" y2="0"><stop offset="0" stop-color="#e8e8e8"/><stop offset="0.6" stop-color="#999"/><stop offset="1" stop-color="#444"/></linearGradient>
</defs>
<line x1="382.60" y1="339.30" x2="382.60" y2="387.40" stroke="#9a9a9a" stroke-width="1.0"/>
<line x1="358.10" y1="354.30" x2="420.20" y2="354.30" stroke="#9a9a9a" stroke-width="1.0"/>
<rect x="358.10" y="339.30" width="62.10" height="61.90" fill="none" stroke="#333" stroke-width="1.0"/>
<line x1="355.50" y1="343.90" x2="358.10" y2="343.90" stroke="#222" stroke-width="1.1"/>
<line x1="356.70" y1="346.20" x2="358.10" y2="346.20" stroke="#555" stroke-width="0.5"/>
<line x1="356.70" y1="348.40" x2="358.10" y2="348.40" stroke="#555" stroke-width="0.5"/>
<line x1="356.70" y1="350.70" x2="358.10" y2="350.70" stroke="#555" stroke-width="0.5"/>
<line x1="356.70" y1="352.50" x2="358.10" y2="352.50" stroke="#555" stroke-width="0.5"/>
<line x1="355.50" y1="355.30" x2="358.10" y2="355.30" stroke="#222" stroke-width="1.1"/>
<line x1="356.70" y1="357.60" x2="358.10" y2="357.60" stroke="#555" stroke-width="0.5"/>
<line x1="356.70" y1="359.80" x2="358.10" y2="359.80" stroke="#555" stroke-width="0.5"/>
<line x1="356.70" y1="362.10" x2="358.10" y2="362.10" stroke="#555" stroke-width="0.5"/>
<line x1="356.70" y1="363.90" x2="358.10" y2="363.90" stroke="#555" stroke-width="0.5"/>
<line x1="355.50" y1="366.70" x2="358.10" y2="366.70" stroke="#222" stroke-width="1.1"/>
<line x1="356.70" y1="369.00" x2="358.10" y2="369.00" stroke="#555" stroke-width="0.5"/>
<line x1="356.70" y1="371.20" x2="358.10" y2="371.20" stroke="#555" stroke-width="0.5"/>
<line x1="356.70" y1="373.50" x2="358.10" y2="373.50" stroke="#555" stroke-width="0.5"/>
<line x1="356.70" y1="375.30" x2="358.10" y2="375.30" stroke="#555" stroke-width="0.5"/>
<line x1="355.50" y1="378.10" x2="358.10" y2="378.10" stroke="#222" stroke-width="1.1"/>
<line x1="356.70" y1="380.40" x2="358.10" y2="380.40" stroke="#555" stroke-width="0.5"/>
<line x1="356.70" y1="382.60" x2="358.10" y2="382.60" stroke="#555" stroke-width="0.5"/>
<line x1="356.70" y1="384.90" x2="358.10" y2="384.90" stroke="#555" stroke-width="0.5"/>
<line x1="356.70" y1="386.70" x2="358.10" y2="386.70" stroke="#555" stroke-width="0.5"/>
<line x1="355.50" y1="389.50" x2="358.10" y2="389.50" stroke="#222" stroke-width="1.1"/>
<line x1="356.70" y1="391.80" x2="358.10" y2="391.80" stroke="#555" stroke-width="0.5"/>
<line x1="356.70" y1="394.00" x2="358.10" y2="394.00" stroke="#555" stroke-width="0.5"/>
<line x1="356.70" y1="396.30" x2="358.10" y2="396.30" stroke="#555" stroke-width="0.5"/>
<line x1="356.70" y1="398.10" x2="358.10" y2="398.10" stroke="#555" stroke-width="0.5"/>
<line x1="355.50" y1="400.90" x2="358.10" y2="400.90" stroke="#222" stroke-width="1.1"/>
<line x1="359.60" y1="401.20" x2="359.60" y2="404.60" stroke="#2a2a2a" stroke-width="0.75"/>
<line x1="363.30" y1="401.20" x2="363.30" y2="403.80" stroke="#2a2a2a" stroke-width="0.75"/>
<line x1="365.47" y1="401.20" x2="365.47" y2="403.80" stroke="#2a2a2a" stroke-width="0.75"/>
<line x1="367.01" y1="401.20" x2="367.01" y2="403.20" stroke="#2a2a2a" stroke-width="0.75"/>
<line x1="368.20" y1="401.20" x2="368.20" y2="403.20" stroke="#2a2a2a" stroke-width="0.75"/>
<line x1="369.17" y1="401.20" x2="369.17" y2="403.20" stroke="#2a2a2a" stroke-width="0.75"/>
<line x1="369.99" y1="401.20" x2="369.99" y2="403.20" stroke="#2a2a2a" stroke-width="0.75"/>
<line x1="370.71" y1="401.20" x2="370.71" y2="403.20" stroke="#2a2a2a" stroke-width="0.75"/>
<line x1="371.34" y1="401.20" x2="371.34" y2="403.20" stroke="#2a2a2a" stroke-width="0.75"/>
<line x1="371.90" y1="401.20" x2="371.90" y2="404.60" stroke="#2a2a2a" stroke-width="0.75"/>
<line x1="375.60" y1="401.20" x2="375.60" y2="403.80" stroke="#2a2a2a" stroke-width="0.75"/>
<line x1="377.77" y1="401.20" x2="377.77" y2="403.80" stroke="#2a2a2a" stroke-width="0.75"/>
<line x1="379.31" y1="401.20" x2="379.31" y2="403.20" stroke="#2a2a2a" stroke-width="0.75"/>
<line x1="380.50" y1="401.20" x2="380.50" y2="403.20" stroke="#2a2a2a" stroke-width="0.75"/>
<line x1="381.47" y1="401.20" x2="381.47" y2="403.20" stroke="#2a2a2a" stroke-width="0.75"/>
<line x1="382.29" y1="401.20" x2="382.29" y2="403.20" stroke="#2a2a2a" stroke-width="0.75"/>
<line x1="383.01" y1="401.20" x2="383.01" y2="403.20" stroke="#2a2a2a" stroke-width="0.75"/>
<line x1="383.64" y1="401.20" x2="383.64" y2="403.20" stroke="#2a2a2a" stroke-width="0.75"/>
<line x1="384.20" y1="401.20" x2="384.20" y2="404.60" stroke="#2a2a2a" stroke-width="0.75"/>
<line x1="387.90" y1="401.20" x2="387.90" y2="403.80" stroke="#2a2a2a" stroke-width="0.75"/>
<line x1="390.07" y1="401.20" x2="390.07" y2="403.80" stroke="#2a2a2a" stroke-width="0.75"/>
<line x1="391.61" y1="401.20" x2="391.61" y2="403.20" stroke="#2a2a2a" stroke-width="0.75"/>
<line x1="392.80" y1="401.20" x2="392.80" y2="403.20" stroke="#2a2a2a" stroke-width="0.75"/>
<line x1="393.77" y1="401.20" x2="393.77" y2="403.20" stroke="#2a2a2a" stroke-width="0.75"/>
<line x1="394.59" y1="401.20" x2="394.59" y2="403.20" stroke="#2a2a2a" stroke-width="0.75"/>
<line x1="395.31" y1="401.20" x2="395.31" y2="403.20" stroke="#2a2a2a" stroke-width="0.75"/>
<line x1="395.94" y1="401.20" x2="395.94" y2="403.20" stroke="#2a2a2a" stroke-width="0.75"/>
<line x1="396.50" y1="401.20" x2="396.50" y2="404.60" stroke="#2a2a2a" stroke-width="0.75"/>
<line x1="400.20" y1="401.20" x2="400.20" y2="403.80" stroke="#2a2a2a" stroke-width="0.75"/>
<line x1="402.37" y1="401.20" x2="402.37" y2="403.80" stroke="#2a2a2a" stroke-width="0.75"/>
<line x1="403.91" y1="401.20" x2="403.91" y2="403.20" stroke="#2a2a2a" stroke-width="0.75"/>
<line x1="405.10" y1="401.20" x2="405.10" y2="403.20" stroke="#2a2a2a" stroke-width="0.75"/>
<line x1="406.07" y1="401.20" x2="406.07" y2="403.20" stroke="#2a2a2a" stroke-width="0.75"/>
<line x1="406.89" y1="401.20" x2="406.89" y2="403.20" stroke="#2a2a2a" stroke-width="0.75"/>
<line x1="407.61" y1="401.20" x2="407.61" y2="403.20" stroke="#2a2a2a" stroke-width="0.75"/>
<line x1="408.24" y1="401.20" x2="408.24" y2="403.20" stroke="#2a2a2a" stroke-width="0.75"/>
<line x1="408.80" y1="401.20" x2="408.80" y2="404.60" stroke="#2a2a2a" stroke-width="0.75"/>
<line x1="412.50" y1="401.20" x2="412.50" y2="403.80" stroke="#2a2a2a" stroke-width="0.75"/>
<line x1="414.67" y1="401.20" x2="414.67" y2="403.80" stroke="#2a2a2a" stroke-width="0.75"/>
<line x1="416.21" y1="401.20" x2="416.21" y2="403.20" stroke="#2a2a2a" stroke-width="0.75"/>
<line x1="417.40" y1="401.20" x2="417.40" y2="403.20" stroke="#2a2a2a" stroke-width="0.75"/>
<line x1="418.37" y1="401.20" x2="418.37" y2="403.20" stroke="#2a2a2a" stroke-width="0.75"/>
<line x1="419.19" y1="401.20" x2="419.19" y2="403.20" stroke="#2a2a2a" stroke-width="0.75"/>
<line x1="456.60" y1="338.80" x2="456.60" y2="386.70" stroke="#9a9a9a" stroke-width="1.0"/>
<line x1="431.10" y1="353.90" x2="493.20" y2="353.90" stroke="#9a9a9a" stroke-width="1.0"/>
<rect x="431.10" y="338.80" width="62.10" height="62.40" fill="none" stroke="#333" stroke-width="1.0"/>
<line x1="428.50" y1="343.40" x2="431.10" y2="343.40" stroke="#222" stroke-width="1.1"/>
<line x1="429.70" y1="345.70" x2="431.10" y2="345.70" stroke="#555" stroke-width="0.5"/>
<line x1="429.70" y1="347.90" x2="431.10" y2="347.90" stroke="#555" stroke-width="0.5"/>
<line x1="429.70" y1="350.20" x2="431.10" y2="350.20" stroke="#555" stroke-width="0.5"/>
<line x1="429.70" y1="352.00" x2="431.10" y2="352.00" stroke="#555" stroke-width="0.5"/>
<line x1="428.50" y1="354.80" x2="431.10" y2="354.80" stroke="#222" stroke-width="1.1"/>
<line x1="429.70" y1="357.10" x2="431.10" y2="357.10" stroke="#555" stroke-width="0.5"/>
<line x1="429.70" y1="359.30" x2="431.10" y2="359.30" stroke="#555" stroke-width="0.5"/>
<line x1="429.70" y1="361.60" x2="431.10" y2="361.60" stroke="#555" stroke-width="0.5"/>
<line x1="429.70" y1="363.40" x2="431.10" y2="363.40" stroke="#555" stroke-width="0.5"/>
<line x1="428.50" y1="366.20" x2="431.10" y2="366.20" stroke="#222" stroke-width="1.1"/>
<line x1="429.70" y1="368.50" x2="431.10" y2="368.50" stroke="#555" stroke-width="0.5"/>
<line x1="429.70" y1="370.70" x2="431.10" y2="370.70" stroke="#555" stroke-width="0.5"/>
<line x1="429.70" y1="373.00" x2="431.10" y2="373.00" stroke="#555" stroke-width="0.5"/>
<line x1="429.70" y1="374.80" x2="431.10" y2="374.80" stroke="#555" stroke-width="0.5"/>
<line x1="428.50" y1="377.60" x2="431.10" y2="377.60" stroke="#222" stroke-width="1.1"/>
<line x1="429.70" y1="379.90" x2="431.10" y2="379.90" stroke="#555" stroke-width="0.5"/>
<line x1="429.70" y1="382.10" x2="431.10" y2="382.10" stroke="#555" stroke-width="0.5"/>
<line x1="429.70" y1="384.40" x2="431.10" y2="384.40" stroke="#555" stroke-width="0.5"/>
<line x1="429.70" y1="386.20" x2="431.10" y2="386.20" stroke="#555" stroke-width="0.5"/>
<line x1="428.50" y1="389.00" x2="431.10" y2="389.00" stroke="#222" stroke-width="1.1"/>
<line x1="429.70" y1="391.30" x2="431.10" y2="391.30" stroke="#555" stroke-width="0.5"/>
<line x1="429.70" y1="393.50" x2="431.10" y2="393.50" stroke="#555" stroke-width="0.5"/>
<line x1="429.70" y1="395.80" x2="431.10" y2="395.80" stroke="#555" stroke-width="0.5"/>
<line x1="429.70" y1="397.60" x2="431.10" y2="397.60" stroke="#555" stroke-width="0.5"/>
<line x1="428.50" y1="400.40" x2="431.10" y2="400.40" stroke="#222" stroke-width="1.1"/>
<line x1="432.60" y1="401.20" x2="432.60" y2="404.60" stroke="#2a2a2a" stroke-width="0.75"/>
<line x1="436.30" y1="401.20" x2="436.30" y2="403.80" stroke="#2a2a2a" stroke-width="0.75"/>
<line x1="438.47" y1="401.20" x2="438.47" y2="403.80" stroke="#2a2a2a" stroke-width="0.75"/>
<line x1="440.01" y1="401.20" x2="440.01" y2="403.20" stroke="#2a2a2a" stroke-width="0.75"/>
<line x1="441.20" y1="401.20" x2="441.20" y2="403.20" stroke="#2a2a2a" stroke-width="0.75"/>
<line x1="442.17" y1="401.20" x2="442.17" y2="403.20" stroke="#2a2a2a" stroke-width="0.75"/>
<line x1="442.99" y1="401.20" x2="442.99" y2="403.20" stroke="#2a2a2a" stroke-width="0.75"/>
<line x1="443.71" y1="401.20" x2="443.71" y2="403.20" stroke="#2a2a2a" stroke-width="0.75"/>
<line x1="444.34" y1="401.20" x2="444.34" y2="403.20" stroke="#2a2a2a" stroke-width="0.75"/>
<line x1="444.90" y1="401.20" x2="444.90" y2="404.60" stroke="#2a2a2a" stroke-width="0.75"/>
<line x1="448.60" y1="401.20" x2="448.60" y2="403.80" stroke="#2a2a2a" stroke-width="0.75"/>
<line x1="450.77" y1="401.20" x2="450.77" y2="403.80" stroke="#2a2a2a" stroke-width="0.75"/>
<line x1="452.31" y1="401.20" x2="452.31" y2="403.20" stroke="#2a2a2a" stroke-width="0.75"/>
<line x1="453.50" y1="401.20" x2="453.50" y2="403.20" stroke="#2a2a2a" stroke-width="0.75"/>
<line x1="454.47" y1="401.20" x2="454.47" y2="403.20" stroke="#2a2a2a" stroke-width="0.75"/>
<line x1="455.29" y1="401.20" x2="455.29" y2="403.20" stroke="#2a2a2a" stroke-width="0.75"/>
<line x1="456.01" y1="401.20" x2="456.01" y2="403.20" stroke="#2a2a2a" stroke-width="0.75"/>
<line x1="456.64" y1="401.20" x2="456.64" y2="403.20" stroke="#2a2a2a" stroke-width="0.75"/>
<line x1="457.20" y1="401.20" x2="457.20" y2="404.60" stroke="#2a2a2a" stroke-width="0.75"/>
<line x1="460.90" y1="401.20" x2="460.90" y2="403.80" stroke="#2a2a2a" stroke-width="0.75"/>
<line x1="463.07" y1="401.20" x2="463.07" y2="403.80" stroke="#2a2a2a" stroke-width="0.75"/>
<line x1="464.61" y1="401.20" x2="464.61" y2="403.20" stroke="#2a2a2a" stroke-width="0.75"/>
<line x1="465.80" y1="401.20" x2="465.80" y2="403.20" stroke="#2a2a2a" stroke-width="0.75"/>
<line x1="466.77" y1="401.20" x2="466.77" y2="403.20" stroke="#2a2a2a" stroke-width="0.75"/>
<line x1="467.59" y1="401.20" x2="467.59" y2="403.20" stroke="#2a2a2a" stroke-width="0.75"/>
<line x1="468.31" y1="401.20" x2="468.31" y2="403.20" stroke="#2a2a2a" stroke-width="0.75"/>
<line x1="468.94" y1="401.20" x2="468.94" y2="403.20" stroke="#2a2a2a" stroke-width="0.75"/>
<line x1="469.50" y1="401.20" x2="469.50" y2="404.60" stroke="#2a2a2a" stroke-width="0.75"/>
<line x1="473.20" y1="401.20" x2="473.20" y2="403.80" stroke="#2a2a2a" stroke-width="0.75"/>
<line x1="475.37" y1="401.20" x2="475.37" y2="403.80" stroke="#2a2a2a" stroke-width="0.75"/>
<line x1="476.91" y1="401.20" x2="476.91" y2="403.20" stroke="#2a2a2a" stroke-width="0.75"/>
<line x1="478.10" y1="401.20" x2="478.10" y2="403.20" stroke="#2a2a2a" stroke-width="0.75"/>
<line x1="479.07" y1="401.20" x2="479.07" y2="403.20" stroke="#2a2a2a" stroke-width="0.75"/>
<line x1="479.89" y1="401.20" x2="479.89" y2="403.20" stroke="#2a2a2a" stroke-width="0.75"/>
<line x1="480.61" y1="401.20" x2="480.61" y2="403.20" stroke="#2a2a2a" stroke-width="0.75"/>
<line x1="481.24" y1="401.20" x2="481.24" y2="403.20" stroke="#2a2a2a" stroke-width="0.75"/>
<line x1="481.80" y1="401.20" x2="481.80" y2="404.60" stroke="#2a2a2a" stroke-width="0.75"/>
<line x1="485.50" y1="401.20" x2="485.50" y2="403.80" stroke="#2a2a2a" stroke-width="0.75"/>
<line x1="487.67" y1="401.20" x2="487.67" y2="403.80" stroke="#2a2a2a" stroke-width="0.75"/>
<line x1="489.21" y1="401.20" x2="489.21" y2="403.20" stroke="#2a2a2a" stroke-width="0.75"/>
<line x1="490.40" y1="401.20" x2="490.40" y2="403.20" stroke="#2a2a2a" stroke-width="0.75"/>
<line x1="491.37" y1="401.20" x2="491.37" y2="403.20" stroke="#2a2a2a" stroke-width="0.75"/>
<line x1="492.19" y1="401.20" x2="492.19" y2="403.20" stroke="#2a2a2a" stroke-width="0.75"/>
<line x1="385.00" y1="407.60" x2="385.00" y2="469.60" stroke="#9a9a9a" stroke-width="1.0"/>
<line x1="358.10" y1="435.70" x2="420.10" y2="435.70" stroke="#9a9a9a" stroke-width="1.0"/>
<rect x="358.10" y="407.60" width="62.00" height="62.00" fill="none" stroke="#333" stroke-width="1.0"/>
<line x1="355.50" y1="412.20" x2="358.10" y2="412.20" stroke="#222" stroke-width="1.1"/>
<line x1="356.70" y1="414.50" x2="358.10" y2="414.50" stroke="#555" stroke-width="0.5"/>
<line x1="356.70" y1="416.70" x2="358.10" y2="416.70" stroke="#555" stroke-width="0.5"/>
<line x1="356.70" y1="419.00" x2="358.10" y2="419.00" stroke="#555" stroke-width="0.5"/>
<line x1="356.70" y1="420.80" x2="358.10" y2="420.80" stroke="#555" stroke-width="0.5"/>
<line x1="355.50" y1="423.60" x2="358.10" y2="423.60" stroke="#222" stroke-width="1.1"/>
<line x1="356.70" y1="425.90" x2="358.10" y2="425.90" stroke="#555" stroke-width="0.5"/>
<line x1="356.70" y1="428.10" x2="358.10" y2="428.10" stroke="#555" stroke-width="0.5"/>
<line x1="356.70" y1="430.40" x2="358.10" y2="430.40" stroke="#555" stroke-width="0.5"/>
<line x1="356.70" y1="432.20" x2="358.10" y2="432.20" stroke="#555" stroke-width="0.5"/>
<line x1="355.50" y1="435.00" x2="358.10" y2="435.00" stroke="#222" stroke-width="1.1"/>
<line x1="356.70" y1="437.30" x2="358.10" y2="437.30" stroke="#555" stroke-width="0.5"/>
<line x1="356.70" y1="439.50" x2="358.10" y2="439.50" stroke="#555" stroke-width="0.5"/>
<line x1="356.70" y1="441.80" x2="358.10" y2="441.80" stroke="#555" stroke-width="0.5"/>
<line x1="356.70" y1="443.60" x2="358.10" y2="443.60" stroke="#555" stroke-width="0.5"/>
<line x1="355.50" y1="446.40" x2="358.10" y2="446.40" stroke="#222" stroke-width="1.1"/>
<line x1="356.70" y1="448.70" x2="358.10" y2="448.70" stroke="#555" stroke-width="0.5"/>
<line x1="356.70" y1="450.90" x2="358.10" y2="450.90" stroke="#555" stroke-width="0.5"/>
<line x1="356.70" y1="453.20" x2="358.10" y2="453.20" stroke="#555" stroke-width="0.5"/>
<line x1="356.70" y1="455.00" x2="358.10" y2="455.00" stroke="#555" stroke-width="0.5"/>
<line x1="355.50" y1="457.80" x2="358.10" y2="457.80" stroke="#222" stroke-width="1.1"/>
<line x1="356.70" y1="460.10" x2="358.10" y2="460.10" stroke="#555" stroke-width="0.5"/>
<line x1="356.70" y1="462.30" x2="358.10" y2="462.30" stroke="#555" stroke-width="0.5"/>
<line x1="356.70" y1="464.60" x2="358.10" y2="464.60" stroke="#555" stroke-width="0.5"/>
<line x1="356.70" y1="466.40" x2="358.10" y2="466.40" stroke="#555" stroke-width="0.5"/>
<line x1="355.50" y1="469.20" x2="358.10" y2="469.20" stroke="#222" stroke-width="1.1"/>
<line x1="359.60" y1="469.60" x2="359.60" y2="473.00" stroke="#2a2a2a" stroke-width="0.75"/>
<line x1="363.30" y1="469.60" x2="363.30" y2="472.20" stroke="#2a2a2a" stroke-width="0.75"/>
<line x1="365.47" y1="469.60" x2="365.47" y2="472.20" stroke="#2a2a2a" stroke-width="0.75"/>
<line x1="367.01" y1="469.60" x2="367.01" y2="471.60" stroke="#2a2a2a" stroke-width="0.75"/>
<line x1="368.20" y1="469.60" x2="368.20" y2="471.60" stroke="#2a2a2a" stroke-width="0.75"/>
<line x1="369.17" y1="469.60" x2="369.17" y2="471.60" stroke="#2a2a2a" stroke-width="0.75"/>
<line x1="369.99" y1="469.60" x2="369.99" y2="471.60" stroke="#2a2a2a" stroke-width="0.75"/>
<line x1="370.71" y1="469.60" x2="370.71" y2="471.60" stroke="#2a2a2a" stroke-width="0.75"/>
<line x1="371.34" y1="469.60" x2="371.34" y2="471.60" stroke="#2a2a2a" stroke-width="0.75"/>
<line x1="371.90" y1="469.60" x2="371.90" y2="473.00" stroke="#2a2a2a" stroke-width="0.75"/>
<line x1="375.60" y1="469.60" x2="375.60" y2="472.20" stroke="#2a2a2a" stroke-width="0.75"/>
<line x1="377.77" y1="469.60" x2="377.77" y2="472.20" stroke="#2a2a2a" stroke-width="0.75"/>
<line x1="379.31" y1="469.60" x2="379.31" y2="471.60" stroke="#2a2a2a" stroke-width="0.75"/>
<line x1="380.50" y1="469.60" x2="380.50" y2="471.60" stroke="#2a2a2a" stroke-width="0.75"/>
<line x1="381.47" y1="469.60" x2="381.47" y2="471.60" stroke="#2a2a2a" stroke-width="0.75"/>
<line x1="382.29" y1="469.60" x2="382.29" y2="471.60" stroke="#2a2a2a" stroke-width="0.75"/>
<line x1="383.01" y1="469.60" x2="383.01" y2="471.60" stroke="#2a2a2a" stroke-width="0.75"/>
<line x1="383.64" y1="469.60" x2="383.64" y2="471.60" stroke="#2a2a2a" stroke-width="0.75"/>
<line x1="384.20" y1="469.60" x2="384.20" y2="473.00" stroke="#2a2a2a" stroke-width="0.75"/>
<line x1="387.90" y1="469.60" x2="387.90" y2="472.20" stroke="#2a2a2a" stroke-width="0.75"/>
<line x1="390.07" y1="469.60" x2="390.07" y2="472.20" stroke="#2a2a2a" stroke-width="0.75"/>
<line x1="391.61" y1="469.60" x2="391.61" y2="471.60" stroke="#2a2a2a" stroke-width="0.75"/>
<line x1="392.80" y1="469.60" x2="392.80" y2="471.60" stroke="#2a2a2a" stroke-width="0.75"/>
<line x1="393.77" y1="469.60" x2="393.77" y2="471.60" stroke="#2a2a2a" stroke-width="0.75"/>
<line x1="394.59" y1="469.60" x2="394.59" y2="471.60" stroke="#2a2a2a" stroke-width="0.75"/>
<line x1="395.31" y1="469.60" x2="395.31" y2="471.60" stroke="#2a2a2a" stroke-width="0.75"/>
<line x1="395.94" y1="469.60" x2="395.94" y2="471.60" stroke="#2a2a2a" stroke-width="0.75"/>
<line x1="396.50" y1="469.60" x2="396.50" y2="473.00" stroke="#2a2a2a" stroke-width="0.75"/>
<line x1="400.20" y1="469.60" x2="400.20" y2="472.20" stroke="#2a2a2a" stroke-width="0.75"/>
<line x1="402.37" y1="469.60" x2="402.37" y2="472.20" stroke="#2a2a2a" stroke-width="0.75"/>
<line x1="403.91" y1="469.60" x2="403.91" y2="471.60" stroke="#2a2a2a" stroke-width="0.75"/>
<line x1="405.10" y1="469.60" x2="405.10" y2="471.60" stroke="#2a2a2a" stroke-width="0.75"/>
<line x1="406.07" y1="469.60" x2="406.07" y2="471.60" stroke="#2a2a2a" stroke-width="0.75"/>
<line x1="406.89" y1="469.60" x2="406.89" y2="471.60" stroke="#2a2a2a" stroke-width="0.75"/>
<line x1="407.61" y1="469.60" x2="407.61" y2="471.60" stroke="#2a2a2a" stroke-width="0.75"/>
<line x1="408.24" y1="469.60" x2="408.24" y2="471.60" stroke="#2a2a2a" stroke-width="0.75"/>
<line x1="408.80" y1="469.60" x2="408.80" y2="473.00" stroke="#2a2a2a" stroke-width="0.75"/>
<line x1="412.50" y1="469.60" x2="412.50" y2="472.20" stroke="#2a2a2a" stroke-width="0.75"/>
<line x1="414.67" y1="469.60" x2="414.67" y2="472.20" stroke="#2a2a2a" stroke-width="0.75"/>
<line x1="416.21" y1="469.60" x2="416.21" y2="471.60" stroke="#2a2a2a" stroke-width="0.75"/>
<line x1="417.40" y1="469.60" x2="417.40" y2="471.60" stroke="#2a2a2a" stroke-width="0.75"/>
<line x1="418.37" y1="469.60" x2="418.37" y2="471.60" stroke="#2a2a2a" stroke-width="0.75"/>
<line x1="419.19" y1="469.60" x2="419.19" y2="471.60" stroke="#2a2a2a" stroke-width="0.75"/>
<line x1="456.60" y1="407.60" x2="456.60" y2="469.60" stroke="#9a9a9a" stroke-width="1.0"/>
<line x1="431.10" y1="435.10" x2="493.00" y2="435.10" stroke="#9a9a9a" stroke-width="1.0"/>
<rect x="431.10" y="407.60" width="61.90" height="62.00" fill="none" stroke="#333" stroke-width="1.0"/>
<line x1="428.50" y1="412.20" x2="431.10" y2="412.20" stroke="#222" stroke-width="1.1"/>
<line x1="429.70" y1="414.50" x2="431.10" y2="414.50" stroke="#555" stroke-width="0.5"/>
<line x1="429.70" y1="416.70" x2="431.10" y2="416.70" stroke="#555" stroke-width="0.5"/>
<line x1="429.70" y1="419.00" x2="431.10" y2="419.00" stroke="#555" stroke-width="0.5"/>
<line x1="429.70" y1="420.80" x2="431.10" y2="420.80" stroke="#555" stroke-width="0.5"/>
<line x1="428.50" y1="423.60" x2="431.10" y2="423.60" stroke="#222" stroke-width="1.1"/>
<line x1="429.70" y1="425.90" x2="431.10" y2="425.90" stroke="#555" stroke-width="0.5"/>
<line x1="429.70" y1="428.10" x2="431.10" y2="428.10" stroke="#555" stroke-width="0.5"/>
<line x1="429.70" y1="430.40" x2="431.10" y2="430.40" stroke="#555" stroke-width="0.5"/>
<line x1="429.70" y1="432.20" x2="431.10" y2="432.20" stroke="#555" stroke-width="0.5"/>
<line x1="428.50" y1="435.00" x2="431.10" y2="435.00" stroke="#222" stroke-width="1.1"/>
<line x1="429.70" y1="437.30" x2="431.10" y2="437.30" stroke="#555" stroke-width="0.5"/>
<line x1="429.70" y1="439.50" x2="431.10" y2="439.50" stroke="#555" stroke-width="0.5"/>
<line x1="429.70" y1="441.80" x2="431.10" y2="441.80" stroke="#555" stroke-width="0.5"/>
<line x1="429.70" y1="443.60" x2="431.10" y2="443.60" stroke="#555" stroke-width="0.5"/>
<line x1="428.50" y1="446.40" x2="431.10" y2="446.40" stroke="#222" stroke-width="1.1"/>
<line x1="429.70" y1="448.70" x2="431.10" y2="448.70" stroke="#555" stroke-width="0.5"/>
<line x1="429.70" y1="450.90" x2="431.10" y2="450.90" stroke="#555" stroke-width="0.5"/>
<line x1="429.70" y1="453.20" x2="431.10" y2="453.20" stroke="#555" stroke-width="0.5"/>
<line x1="429.70" y1="455.00" x2="431.10" y2="455.00" stroke="#555" stroke-width="0.5"/>
<line x1="428.50" y1="457.80" x2="431.10" y2="457.80" stroke="#222" stroke-width="1.1"/>
<line x1="429.70" y1="460.10" x2="431.10" y2="460.10" stroke="#555" stroke-width="0.5"/>
<line x1="429.70" y1="462.30" x2="431.10" y2="462.30" stroke="#555" stroke-width="0.5"/>
<line x1="429.70" y1="464.60" x2="431.10" y2="464.60" stroke="#555" stroke-width="0.5"/>
<line x1="429.70" y1="466.40" x2="431.10" y2="466.40" stroke="#555" stroke-width="0.5"/>
<line x1="428.50" y1="469.20" x2="431.10" y2="469.20" stroke="#222" stroke-width="1.1"/>
<line x1="432.60" y1="469.60" x2="432.60" y2="473.00" stroke="#2a2a2a" stroke-width="0.75"/>
<line x1="436.30" y1="469.60" x2="436.30" y2="472.20" stroke="#2a2a2a" stroke-width="0.75"/>
<line x1="438.47" y1="469.60" x2="438.47" y2="472.20" stroke="#2a2a2a" stroke-width="0.75"/>
<line x1="440.01" y1="469.60" x2="440.01" y2="471.60" stroke="#2a2a2a" stroke-width="0.75"/>
<line x1="441.20" y1="469.60" x2="441.20" y2="471.60" stroke="#2a2a2a" stroke-width="0.75"/>
<line x1="442.17" y1="469.60" x2="442.17" y2="471.60" stroke="#2a2a2a" stroke-width="0.75"/>
<line x1="442.99" y1="469.60" x2="442.99" y2="471.60" stroke="#2a2a2a" stroke-width="0.75"/>
<line x1="443.71" y1="469.60" x2="443.71" y2="471.60" stroke="#2a2a2a" stroke-width="0.75"/>
<line x1="444.34" y1="469.60" x2="444.34" y2="471.60" stroke="#2a2a2a" stroke-width="0.75"/>
<line x1="444.90" y1="469.60" x2="444.90" y2="473.00" stroke="#2a2a2a" stroke-width="0.75"/>
<line x1="448.60" y1="469.60" x2="448.60" y2="472.20" stroke="#2a2a2a" stroke-width="0.75"/>
<line x1="450.77" y1="469.60" x2="450.77" y2="472.20" stroke="#2a2a2a" stroke-width="0.75"/>
<line x1="452.31" y1="469.60" x2="452.31" y2="471.60" stroke="#2a2a2a" stroke-width="0.75"/>
<line x1="453.50" y1="469.60" x2="453.50" y2="471.60" stroke="#2a2a2a" stroke-width="0.75"/>
<line x1="454.47" y1="469.60" x2="454.47" y2="471.60" stroke="#2a2a2a" stroke-width="0.75"/>
<line x1="455.29" y1="469.60" x2="455.29" y2="471.60" stroke="#2a2a2a" stroke-width="0.75"/>
<line x1="456.01" y1="469.60" x2="456.01" y2="471.60" stroke="#2a2a2a" stroke-width="0.75"/>
<line x1="456.64" y1="469.60" x2="456.64" y2="471.60" stroke="#2a2a2a" stroke-width="0.75"/>
<line x1="457.20" y1="469.60" x2="457.20" y2="473.00" stroke="#2a2a2a" stroke-width="0.75"/>
<line x1="460.90" y1="469.60" x2="460.90" y2="472.20" stroke="#2a2a2a" stroke-width="0.75"/>
<line x1="463.07" y1="469.60" x2="463.07" y2="472.20" stroke="#2a2a2a" stroke-width="0.75"/>
<line x1="464.61" y1="469.60" x2="464.61" y2="471.60" stroke="#2a2a2a" stroke-width="0.75"/>
<line x1="465.80" y1="469.60" x2="465.80" y2="471.60" stroke="#2a2a2a" stroke-width="0.75"/>
<line x1="466.77" y1="469.60" x2="466.77" y2="471.60" stroke="#2a2a2a" stroke-width="0.75"/>
<line x1="467.59" y1="469.60" x2="467.59" y2="471.60" stroke="#2a2a2a" stroke-width="0.75"/>
<line x1="468.31" y1="469.60" x2="468.31" y2="471.60" stroke="#2a2a2a" stroke-width="0.75"/>
<line x1="468.94" y1="469.60" x2="468.94" y2="471.60" stroke="#2a2a2a" stroke-width="0.75"/>
<line x1="469.50" y1="469.60" x2="469.50" y2="473.00" stroke="#2a2a2a" stroke-width="0.75"/>
<line x1="473.20" y1="469.60" x2="473.20" y2="472.20" stroke="#2a2a2a" stroke-width="0.75"/>
<line x1="475.37" y1="469.60" x2="475.37" y2="472.20" stroke="#2a2a2a" stroke-width="0.75"/>
<line x1="476.91" y1="469.60" x2="476.91" y2="471.60" stroke="#2a2a2a" stroke-width="0.75"/>
<line x1="478.10" y1="469.60" x2="478.10" y2="471.60" stroke="#2a2a2a" stroke-width="0.75"/>
<line x1="479.07" y1="469.60" x2="479.07" y2="471.60" stroke="#2a2a2a" stroke-width="0.75"/>
<line x1="479.89" y1="469.60" x2="479.89" y2="471.60" stroke="#2a2a2a" stroke-width="0.75"/>
<line x1="480.61" y1="469.60" x2="480.61" y2="471.60" stroke="#2a2a2a" stroke-width="0.75"/>
<line x1="481.24" y1="469.60" x2="481.24" y2="471.60" stroke="#2a2a2a" stroke-width="0.75"/>
<line x1="481.80" y1="469.60" x2="481.80" y2="473.00" stroke="#2a2a2a" stroke-width="0.75"/>
<line x1="485.50" y1="469.60" x2="485.50" y2="472.20" stroke="#2a2a2a" stroke-width="0.75"/>
<line x1="487.67" y1="469.60" x2="487.67" y2="472.20" stroke="#2a2a2a" stroke-width="0.75"/>
<line x1="489.21" y1="469.60" x2="489.21" y2="471.60" stroke="#2a2a2a" stroke-width="0.75"/>
<line x1="490.40" y1="469.60" x2="490.40" y2="471.60" stroke="#2a2a2a" stroke-width="0.75"/>
<line x1="491.37" y1="469.60" x2="491.37" y2="471.60" stroke="#2a2a2a" stroke-width="0.75"/>
<line x1="492.19" y1="469.60" x2="492.19" y2="471.60" stroke="#2a2a2a" stroke-width="0.75"/>
<text x="360.50" y="347.50" font-size="8.2" textLength="20.6" lengthAdjust="spacingAndGlyphs">2.81%</text>
<text x="433.00" y="347.40" font-size="8.2" textLength="20.7" lengthAdjust="spacingAndGlyphs">3.16%</text>
<text x="360.70" y="415.70" font-size="8.2" textLength="20.7" lengthAdjust="spacingAndGlyphs">6.63%</text>
<text x="392.40" y="435.10" font-size="8.2" textLength="20.5" lengthAdjust="spacingAndGlyphs">52.8%</text>
<text x="433.00" y="415.10" font-size="8.2" textLength="20.7" lengthAdjust="spacingAndGlyphs">2.23%</text>
<text x="464.40" y="435.10" font-size="8.2" textLength="20.7" lengthAdjust="spacingAndGlyphs">89.7%</text>
<path d="M-12.5 6.0 C-15 4.5 -14 0.5 -10.5 -1.2 L8 -10.5 C12.5 -12.5 16.5 -10 15.5 -5.8 C14.8 -3 11.5 -1.2 9 0 L-8 7.6 C-9.8 8.3 -11.5 7.5 -12.5 6.0 Z" fill="#efefef" stroke="#666" stroke-width="0.55" transform="translate(394.50 350.50) scale(1.0)"/>
<path d="M-12.5 6.0 C-15 4.5 -14 0.5 -10.5 -1.2 L8 -10.5 C12.5 -12.5 16.5 -10 15.5 -5.8 C14.8 -3 11.5 -1.2 9 0 L-8 7.6 C-9.8 8.3 -11.5 7.5 -12.5 6.0 Z" fill="#e2e2e2" stroke="#6a6a6a" stroke-width="0.69" transform="translate(394.50 350.50) scale(0.8)"/>
<path d="M-12.5 6.0 C-15 4.5 -14 0.5 -10.5 -1.2 L8 -10.5 C12.5 -12.5 16.5 -10 15.5 -5.8 C14.8 -3 11.5 -1.2 9 0 L-8 7.6 C-9.8 8.3 -11.5 7.5 -12.5 6.0 Z" fill="#f2f2f2" stroke="#777" stroke-width="0.92" transform="translate(394.50 350.50) scale(0.6)"/>
<ellipse cx="0" cy="0" rx="4.00" ry="2.60" fill="#fafafa" stroke="#666" stroke-width="0.6" opacity="1" transform="translate(392.90 349.60) rotate(-20)"/>
<ellipse cx="0" cy="0" rx="1.80" ry="1.20" fill="none" stroke="#777" stroke-width="0.5" opacity="1" transform="translate(392.90 349.60) rotate(-20)"/>
<ellipse cx="0" cy="0" rx="3.70" ry="3.50" fill="#fafafa" stroke="#555" stroke-width="0.7" opacity="1" transform="translate(405.70 346.30) rotate(0)"/>
<ellipse cx="0" cy="0" rx="1.80" ry="1.70" fill="#e0e0e0" stroke="#666" stroke-width="0.5" opacity="1" transform="translate(405.70 346.30) rotate(0)"/>
<ellipse cx="0" cy="0" rx="3.40" ry="2.80" fill="#e8e8e8" stroke="#777" stroke-width="0.6" opacity="1" transform="translate(384.80 354.80) rotate(-10)"/>
<ellipse cx="0" cy="0" rx="1.60" ry="1.30" fill="#bbb" stroke="none" stroke-width="0.6" opacity="1" transform="translate(384.80 354.80) rotate(-10)"/>
<path d="M-17.5 -3.8 C-10 -5 -6 -8 0 -7.8 C5 -7.6 7.2 -3 6.8 1 C6.2 5 3 7.4 -1 7.4 C-6 7.4 -10 5.2 -17.5 4.6 Z" fill="#d4d4d4" stroke="#666" stroke-width="0.55" transform="translate(375.70 377.40) scale(1.0)"/>
<path d="M-17.5 -3.8 C-10 -5 -6 -8 0 -7.8 C5 -7.6 7.2 -3 6.8 1 C6.2 5 3 7.4 -1 7.4 C-6 7.4 -10 5.2 -17.5 4.6 Z" fill="#909090" stroke="#444" stroke-width="0.64" transform="translate(375.70 377.40) scale(0.86)"/>
<path d="M-17.5 -3.8 C-10 -5 -6 -8 0 -7.8 C5 -7.6 7.2 -3 6.8 1 C6.2 5 3 7.4 -1 7.4 C-6 7.4 -10 5.2 -17.5 4.6 Z" fill="#6e6e6e" stroke="#333" stroke-width="0.76" transform="translate(375.70 377.40) scale(0.72)"/>
<path d="M-17.5 -3.8 C-10 -5 -6 -8 0 -7.8 C5 -7.6 7.2 -3 6.8 1 C6.2 5 3 7.4 -1 7.4 C-6 7.4 -10 5.2 -17.5 4.6 Z" fill="#555" stroke="#222" stroke-width="0.95" transform="translate(375.70 377.40) scale(0.58)"/>
<path d="M-17.5 -3.8 C-10 -5 -6 -8 0 -7.8 C5 -7.6 7.2 -3 6.8 1 C6.2 5 3 7.4 -1 7.4 C-6 7.4 -10 5.2 -17.5 4.6 Z" fill="#3a3a3a" stroke="#111" stroke-width="1.25" transform="translate(375.70 377.40) scale(0.44)"/>
<path d="M-17.5 -3.8 C-10 -5 -6 -8 0 -7.8 C5 -7.6 7.2 -3 6.8 1 C6.2 5 3 7.4 -1 7.4 C-6 7.4 -10 5.2 -17.5 4.6 Z" fill="#262626" stroke="#000" stroke-width="1.83" transform="translate(375.70 377.40) scale(0.3)"/>
<ellipse cx="0" cy="0" rx="1.10" ry="1.00" fill="#eee" stroke="none" stroke-width="0.6" opacity="1" transform="translate(376.20 377.40) rotate(0)"/>
<ellipse cx="0" cy="0" rx="2.40" ry="5.00" fill="#3a3a3a" stroke="#111" stroke-width="0.6" opacity="1" transform="translate(359.40 377.40) rotate(0)"/>
<ellipse cx="0" cy="0" rx="1.20" ry="2.80" fill="#1a1a1a" stroke="none" stroke-width="0.6" opacity="1" transform="translate(359.20 377.40) rotate(0)"/>
<ellipse cx="0" cy="0" rx="16.50" ry="7.80" fill="#e4e4e4" stroke="#888" stroke-width="0.6" opacity="1" transform="translate(468.50 350.20) rotate(-20)"/>
<ellipse cx="0" cy="0" rx="13.20" ry="6.30" fill="#bdbdbd" stroke="#666" stroke-width="0.6" opacity="1" transform="translate(470.50 349.30) rotate(-20)"/>
<ellipse cx="0" cy="0" rx="10.00" ry="5.00" fill="#999" stroke="#555" stroke-width="0.6" opacity="1" transform="translate(472.50 348.50) rotate(-18)"/>
<ellipse cx="0" cy="0" rx="7.50" ry="4.20" fill="#777" stroke="#333" stroke-width="0.6" opacity="1" transform="translate(474.50 347.80) rotate(-15)"/>
<ellipse cx="0" cy="0" rx="3.60" ry="3.20" fill="#e2e2e2" stroke="#888" stroke-width="0.6" opacity="1" transform="translate(455.30 355.80) rotate(0)"/>
<ellipse cx="0" cy="0" rx="5.30" ry="5.00" fill="#666" stroke="#333" stroke-width="0.6" opacity="1" transform="translate(478.70 346.70) rotate(0)"/>
<ellipse cx="0" cy="0" rx="4.24" ry="4.00" fill="#2a2a2a" stroke="#111" stroke-width="0.6" opacity="1" transform="translate(478.70 346.70) rotate(0)"/>
<ellipse cx="0" cy="0" rx="2.92" ry="2.75" fill="#444" stroke="#111" stroke-width="0.6" opacity="1" transform="translate(478.70 346.70) rotate(0)"/>
<ellipse cx="0" cy="0" rx="1.85" ry="1.75" fill="#222" stroke="#000" stroke-width="0.5" opacity="1" transform="translate(478.70 346.70) rotate(0)"/>
<ellipse cx="0" cy="0" rx="0.79" ry="0.75" fill="#ececec" stroke="none" stroke-width="0.6" opacity="1" transform="translate(478.70 346.70) rotate(0)"/>
<ellipse cx="0" cy="0" rx="11.50" ry="9.60" fill="#e8e8e8" stroke="#888" stroke-width="0.6" opacity="1" transform="translate(446.00 377.00) rotate(-35)"/>
<ellipse cx="0" cy="0" rx="9.60" ry="8.00" fill="#c4c4c4" stroke="#666" stroke-width="0.5" opacity="1" transform="translate(446.50 377.60) rotate(-35)"/>
<ellipse cx="0" cy="0" rx="7.00" ry="6.20" fill="#666" stroke="#333" stroke-width="0.6" opacity="1" transform="translate(448.00 378.90) rotate(-15)"/>
<ellipse cx="0" cy="0" rx="5.60" ry="4.96" fill="#2a2a2a" stroke="#111" stroke-width="0.6" opacity="1" transform="translate(448.00 378.90) rotate(-15)"/>
<ellipse cx="0" cy="0" rx="3.85" ry="3.41" fill="#444" stroke="#111" stroke-width="0.6" opacity="1" transform="translate(448.00 378.90) rotate(-15)"/>
<ellipse cx="0" cy="0" rx="2.45" ry="2.17" fill="#222" stroke="#000" stroke-width="0.5" opacity="1" transform="translate(448.00 378.90) rotate(-15)"/>
<ellipse cx="0" cy="0" rx="1.05" ry="0.93" fill="#ececec" stroke="none" stroke-width="0.6" opacity="1" transform="translate(448.00 378.90) rotate(-15)"/>
<ellipse cx="0" cy="0" rx="3.00" ry="5.40" fill="#3a3a3a" stroke="#111" stroke-width="0.6" opacity="1" transform="translate(432.40 378.90) rotate(0)"/>
<ellipse cx="0" cy="0" rx="1.60" ry="3.20" fill="#1a1a1a" stroke="none" stroke-width="0.6" opacity="1" transform="translate(432.20 378.90) rotate(0)"/>
<path d="M-15 12 C-19 10 -17 4 -12 2 L5 -9 C10 -12 16 -10 16 -4 C16 1 12 3 9 4 L-6 11 C-9 12.5 -12 13 -15 12 Z" fill="#ececec" stroke="#999" stroke-width="0.55" transform="translate(395.00 417.50) scale(1.0)"/>
<path d="M-15 12 C-19 10 -17 4 -12 2 L5 -9 C10 -12 16 -10 16 -4 C16 1 12 3 9 4 L-6 11 C-9 12.5 -12 13 -15 12 Z" fill="#d4d4d4" stroke="#777" stroke-width="0.65" transform="translate(395.00 417.50) scale(0.85)"/>
<ellipse cx="0" cy="0" rx="6.80" ry="5.20" fill="#aaa" stroke="#555" stroke-width="0.6" opacity="1" transform="translate(392.90 419.00) rotate(-20)"/>
<ellipse cx="0" cy="0" rx="4.60" ry="3.40" fill="#666" stroke="#333" stroke-width="0.6" opacity="1" transform="translate(392.90 419.00) rotate(-20)"/>
<ellipse cx="0" cy="0" rx="2.40" ry="1.80" fill="#999" stroke="#444" stroke-width="0.5" opacity="1" transform="translate(392.90 419.00) rotate(-20)"/>
<ellipse cx="0" cy="0" rx="0.90" ry="0.80" fill="#eee" stroke="none" stroke-width="0.6" opacity="1" transform="translate(392.60 419.00) rotate(0)"/>
<ellipse cx="0" cy="0" rx="4.30" ry="4.00" fill="#999" stroke="#555" stroke-width="0.6" opacity="1" transform="translate(382.40 425.40) rotate(0)"/>
<ellipse cx="0" cy="0" rx="2.60" ry="2.40" fill="#555" stroke="#333" stroke-width="0.5" opacity="1" transform="translate(382.40 425.40) rotate(0)"/>
<ellipse cx="0" cy="0" rx="1.00" ry="0.90" fill="#ccc" stroke="none" stroke-width="0.6" opacity="1" transform="translate(382.40 425.40) rotate(0)"/>
<ellipse cx="0" cy="0" rx="5.40" ry="6.10" fill="#666" stroke="#333" stroke-width="0.6" opacity="1" transform="translate(405.00 416.10) rotate(0)"/>
<ellipse cx="0" cy="0" rx="4.32" ry="4.88" fill="#2a2a2a" stroke="#111" stroke-width="0.6" opacity="1" transform="translate(405.00 416.10) rotate(0)"/>
<ellipse cx="0" cy="0" rx="2.97" ry="3.35" fill="#444" stroke="#111" stroke-width="0.6" opacity="1" transform="translate(405.00 416.10) rotate(0)"/>
<ellipse cx="0" cy="0" rx="1.89" ry="2.13" fill="#222" stroke="#000" stroke-width="0.5" opacity="1" transform="translate(405.00 416.10) rotate(0)"/>
<ellipse cx="0" cy="0" rx="0.81" ry="0.91" fill="#ececec" stroke="none" stroke-width="0.6" opacity="1" transform="translate(405.00 416.10) rotate(0)"/>
<ellipse cx="0" cy="0" rx="10.20" ry="8.60" fill="#e2e2e2" stroke="#999" stroke-width="0.5" opacity="1" transform="translate(373.40 445.80) rotate(-15)"/>
<ellipse cx="0" cy="0" rx="8.60" ry="7.20" fill="#b8b8b8" stroke="#666" stroke-width="0.5" opacity="1" transform="translate(373.60 446.00) rotate(-15)"/>
<ellipse cx="0" cy="0" rx="6.90" ry="5.80" fill="#666" stroke="#333" stroke-width="0.6" opacity="1" transform="translate(373.80 446.10) rotate(-15)"/>
<ellipse cx="0" cy="0" rx="5.52" ry="4.64" fill="#2a2a2a" stroke="#111" stroke-width="0.6" opacity="1" transform="translate(373.80 446.10) rotate(-15)"/>
<ellipse cx="0" cy="0" rx="3.80" ry="3.19" fill="#444" stroke="#111" stroke-width="0.6" opacity="1" transform="translate(373.80 446.10) rotate(-15)"/>
<ellipse cx="0" cy="0" rx="2.42" ry="2.03" fill="#222" stroke="#000" stroke-width="0.5" opacity="1" transform="translate(373.80 446.10) rotate(-15)"/>
<ellipse cx="0" cy="0" rx="1.03" ry="0.87" fill="#ececec" stroke="none" stroke-width="0.6" opacity="1" transform="translate(373.80 446.10) rotate(-15)"/>
<ellipse cx="0" cy="0" rx="2.60" ry="4.80" fill="#3a3a3a" stroke="#111" stroke-width="0.6" opacity="1" transform="translate(359.40 446.90) rotate(0)"/>
<ellipse cx="0" cy="0" rx="1.30" ry="2.80" fill="#1a1a1a" stroke="none" stroke-width="0.6" opacity="1" transform="translate(359.20 446.90) rotate(0)"/>
<path d="M456.8 416.5 C458 410.5 467 408.8 477.5 409.2 C485 409.8 485.5 423.5 478.5 426.8 C471 429.6 463 428.8 458.6 426 C455.3 428.6 452.6 425.5 455.2 422 C455.6 420 456.2 418 456.8 416.5 Z" fill="#dcdcdc" stroke="#888" stroke-width="0.6"/>
<path d="M459.5 416.5 C461 412 469 410.6 477.5 411 C483 411.6 483.5 422.5 478 425 C471.5 427.2 464 426.4 460.8 423.6 C458.8 421.5 458.8 418.5 459.5 416.5 Z" fill="#b8b8b8" stroke="#777" stroke-width="0.5"/>
<path d="M463 416.5 C465 413.5 471 412.6 477 413 C481.5 413.6 481.6 421 477.2 423 C472 424.8 466 424.2 464 422 C462.5 420.4 462.3 418 463 416.5 Z" fill="#8a8a8a" stroke="#555" stroke-width="0.5"/>
<ellipse cx="0" cy="0" rx="5.20" ry="5.60" fill="#666" stroke="#333" stroke-width="0.6" opacity="1" transform="translate(477.30 416.30) rotate(0)"/>
<ellipse cx="0" cy="0" rx="4.16" ry="4.48" fill="#2a2a2a" stroke="#111" stroke-width="0.6" opacity="1" transform="translate(477.30 416.30) rotate(0)"/>
<ellipse cx="0" cy="0" rx="2.86" ry="3.08" fill="#444" stroke="#111" stroke-width="0.6" opacity="1" transform="translate(477.30 416.30) rotate(0)"/>
<ellipse cx="0" cy="0" rx="1.82" ry="1.96" fill="#222" stroke="#000" stroke-width="0.5" opacity="1" transform="translate(477.30 416.30) rotate(0)"/>
<ellipse cx="0" cy="0" rx="0.78" ry="0.84" fill="#ececec" stroke="none" stroke-width="0.6" opacity="1" transform="translate(477.30 416.30) rotate(0)"/>
<ellipse cx="0" cy="0" rx="5.40" ry="4.30" fill="#f6f6f6" stroke="#999" stroke-width="0.7" opacity="1" transform="translate(446.60 446.90) rotate(-10)"/>
<ellipse cx="0" cy="0" rx="3.50" ry="2.60" fill="#f0f0f0" stroke="#aaa" stroke-width="0.6" opacity="1" transform="translate(446.60 446.90) rotate(-10)"/>
<ellipse cx="0" cy="0" rx="1.60" ry="1.10" fill="none" stroke="#bbb" stroke-width="0.5" opacity="1" transform="translate(446.60 446.90) rotate(-10)"/>
<line x1="495.70" y1="338.90" x2="495.70" y2="402.00" stroke="#231f20" stroke-width="1.0"/>
<line x1="495.70" y1="407.20" x2="495.70" y2="470.00" stroke="#231f20" stroke-width="1.0"/>
<text x="499.80" y="370.00" font-size="7.6" text-anchor="middle" transform="rotate(90 499.80 370.00)">10</text>
<text x="499.80" y="438.60" font-size="7.6" text-anchor="middle" transform="rotate(90 499.80 438.60)">100</text>
<text x="511.00" y="403.90" font-size="9.6" text-anchor="middle" textLength="55.3" lengthAdjust="spacingAndGlyphs" transform="rotate(90 511.00 403.90)" class="c">Venetoclax [nM]</text>
<text x="342.90" y="462.50" font-size="7.4" text-anchor="middle" textLength="37.0" lengthAdjust="spacingAndGlyphs" transform="rotate(-90 342.90 462.50)">Annexin V</text>
<path d="M348.7 478.6 L348.7 451 M375 478.6 L348.7 478.6" fill="none" stroke="#222" stroke-width="1.2"/>
<path d="M346.6 451.6 L348.7 447.6 L350.8 451.6Z M374.6 476.5 L378.6 478.6 L374.6 480.7Z" fill="#222"/>
<text x="364.00" y="487.50" font-size="7.2" text-anchor="middle">PI</text>
</g>
</svg></body></html>
